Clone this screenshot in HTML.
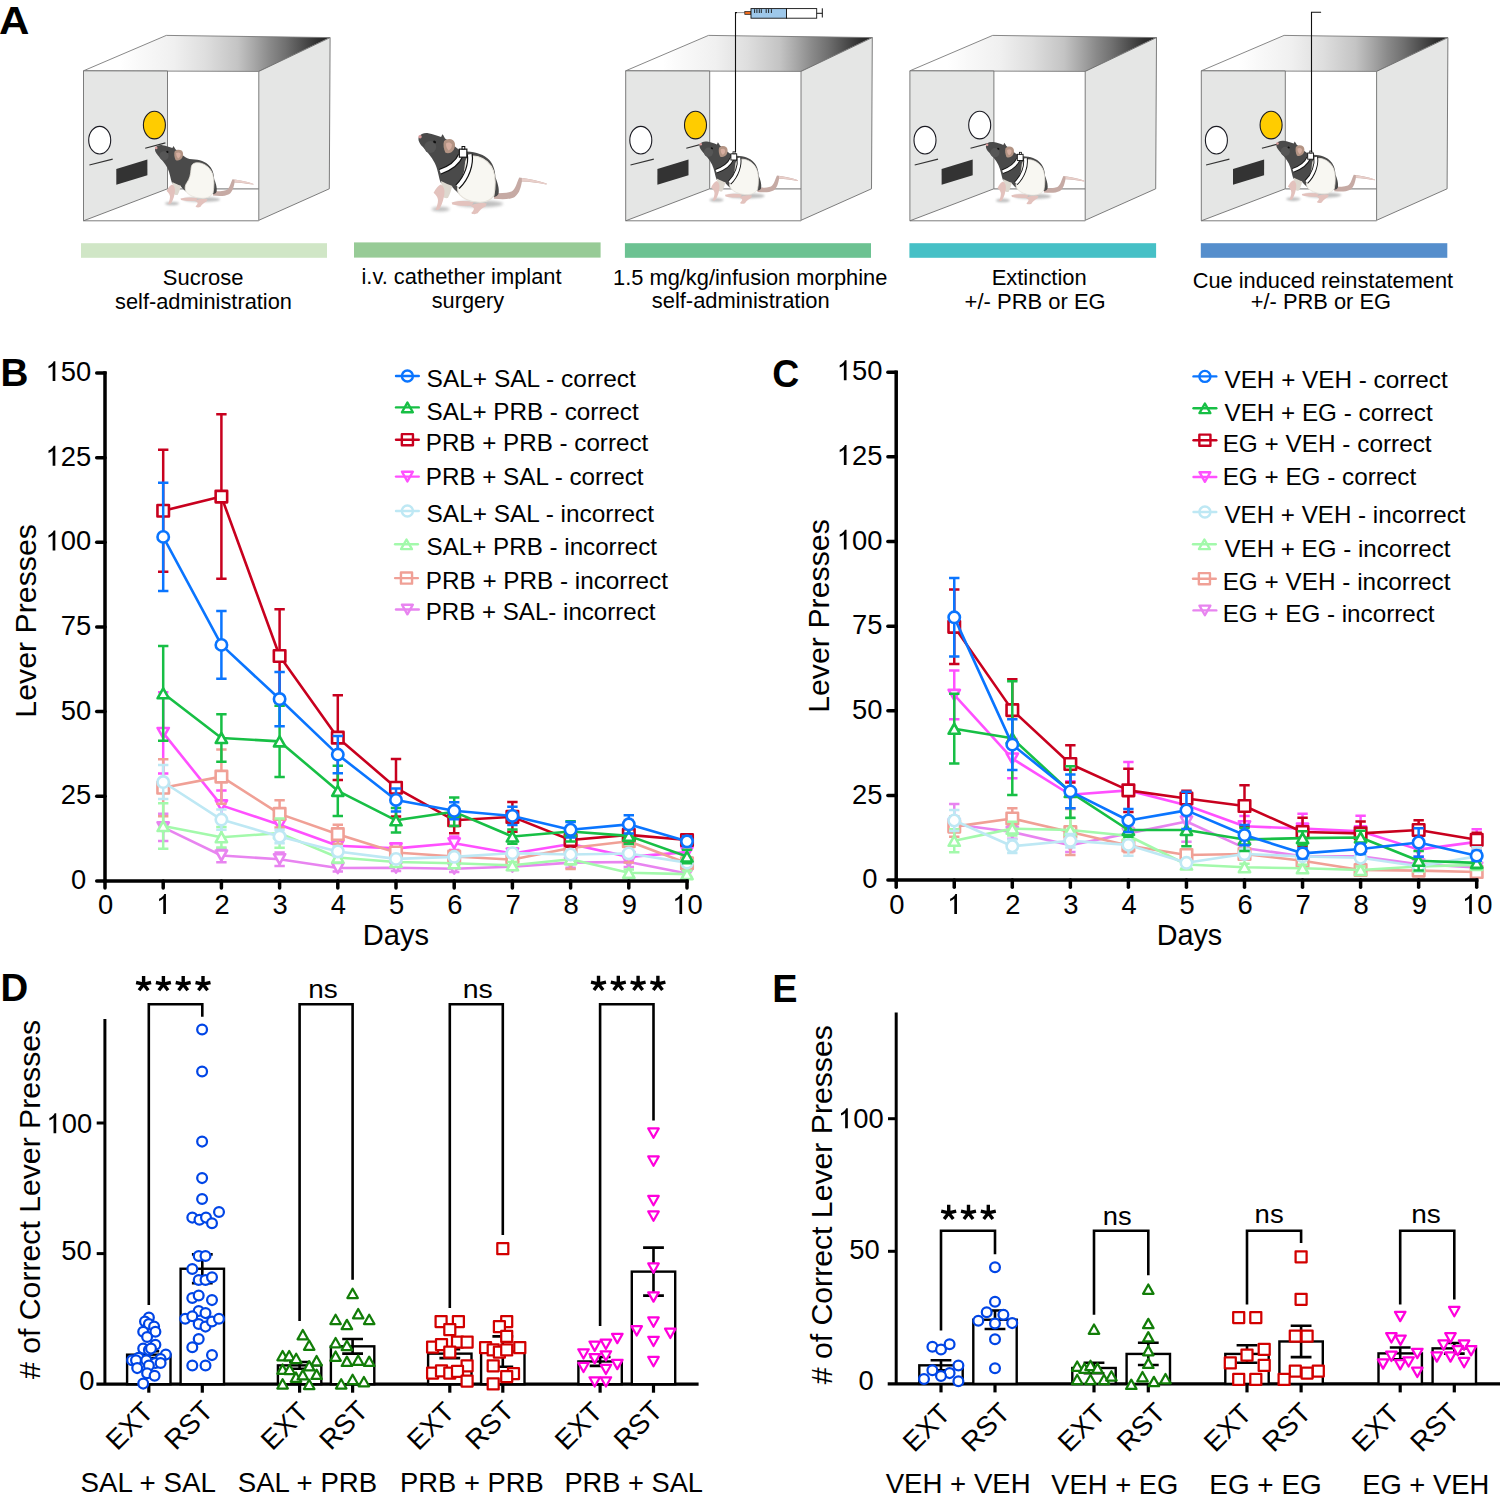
<!DOCTYPE html>
<html><head><meta charset="utf-8"><style>html,body{margin:0;padding:0;background:#fff;}svg{display:block;}</style></head><body>
<svg width="1500" height="1503" viewBox="0 0 1500 1503" font-family='"Liberation Sans", sans-serif'>
<defs><linearGradient id="topgrad" x1="0" y1="0" x2="1" y2="0"><stop offset="0" stop-color="#ffffff"/><stop offset="0.15" stop-color="#ffffff"/><stop offset="0.24" stop-color="#f8f8f8"/><stop offset="0.365" stop-color="#f0f0f0"/><stop offset="0.495" stop-color="#dedede"/><stop offset="0.625" stop-color="#c4c4c4"/><stop offset="0.69" stop-color="#a8a8a8"/><stop offset="0.755" stop-color="#8a8a8a"/><stop offset="0.82" stop-color="#707070"/><stop offset="0.885" stop-color="#505050"/><stop offset="0.95" stop-color="#303030"/><stop offset="1" stop-color="#232323"/></linearGradient><filter id="blur1" x="-50%" y="-200%" width="200%" height="500%"><feGaussianBlur stdDeviation="1.2"/></filter>

<g id="rat">
  <ellipse cx="22" cy="68.5" rx="7" ry="1.8" fill="#8a8a8a" opacity="0.55" filter="url(#blur1)"/>
  <ellipse cx="52" cy="64.5" rx="18" ry="2.6" fill="#8a8a8a" opacity="0.55" filter="url(#blur1)"/>
  <path d="M63 56.5 C68 56 73 56.5 76.5 55 C80 53 80.5 48 82.5 44.2 C89 45 97 46.5 103.6 48.9 L103.4 49.6 C97 48.4 90 47.6 84.6 47.4 C83.8 51 83 56.5 79 59.2 C74.5 61.6 68 61 63 60.6 Z" fill="#c6aaa4"/>
  <path d="M84.5 44.6 C91 45.4 97.5 46.8 103.6 48.9 L103.4 49.6 C97 48.2 90 47.4 84.5 47.2 Z" fill="#e9cfca"/>
  <path d="M30.5 63.4 C36 62 42 62.2 47.5 63.2 L46 65.8 C40.5 66.3 35 66 31 65 Z" fill="#e3c2bd"/>
  <path d="M45 66 C48.5 64 53 63.3 57.5 64.2 L56.5 66.6 C54 67.8 52 69.5 50.5 71.8 C48.5 72.8 46.5 72.5 45.5 71.5 C47 70 48 68.6 47.5 67.6 Z" fill="#e3c2bd"/>
  <path d="M5.2 13.2 C6.5 10.8 9.5 9.7 12.5 10.2 C16 10.8 19.5 12 22.4 13 L23.4 10.9 C24.4 12 24.9 13.2 25.4 14.2 C30.5 17 33.5 22.5 39.5 24 C47 24.2 53.5 25.5 58 29.5 C62.3 33 64 38.5 64.2 44 C65.5 47.5 67.4 52.5 66.6 56.8 C65.6 59 63.6 59.3 62.6 58.8 C56 60 48 59.5 42 59 C37 58.6 33 54 30.5 51 C27.5 50.5 24 50 22 48 C20.5 44 20 38 17.5 33 C15 28 11 24 8 20.4 C5.8 18 4.4 15.4 5.2 13.2 Z" fill="#4a4a4a"/>
  <circle cx="14" cy="20.8" r="4.6" fill="#565656"/>
  <path d="M42.4 29.5 C44 27.6 47.5 27.4 51 28.2 C56.5 29.8 60.6 33.5 62.6 39 C64.4 44.5 64.2 52 63 58.2 C60 62.6 55 63.6 50 63.1 C44.5 62.6 39.5 60.6 36.6 57.4 C34.4 54.3 34.8 50.5 37 47.5 C39.6 44 40.8 39 41 34.5 C41.2 32.4 41.4 30.6 42.4 29.5 Z" fill="#f8f7f2" stroke="#e6e2da" stroke-width="0.8"/>
  <path d="M22.2 47 C25.6 48.5 28.8 50.2 31 50.8 C30.2 54 29 57.8 27.6 60 C25.8 60.4 24.2 59.6 23.4 58.6 C23.6 54.6 23 50.6 22.2 47 Z" fill="#ddd8cf"/>
  <path d="M16.6 56 C18.4 52.6 20.4 50 22.2 49.6 C24.4 51 25.4 53.6 24.9 57 C24.4 60.6 23.4 64.4 21.6 67.6 C20.8 69.2 19 69.6 18.2 68.9 C19.2 66.6 20 64 20 61.6 C19.8 59.4 18.6 57.8 16.6 56 Z" fill="#e3c2bd"/>
  <path d="M24.6 16.4 C26.4 14.4 29.6 14.2 31.6 15.6 C33.6 17.2 33.4 20.6 32 23 C30.6 25.2 27.6 26.2 25.6 25 C24.4 22.6 23.8 19 24.6 16.4 Z" fill="#b39484"/>
  <path d="M26.2 18 C27.6 17 29.6 17.2 30.6 18.6 C31 20.4 30 22.4 28.2 23.4 C26.8 22 26 20 26.2 18 Z" fill="#d6aea0"/>
  <ellipse cx="17.4" cy="16.9" rx="1.2" ry="0.9" fill="#111" transform="rotate(30 17.4 16.9)"/>
  <circle cx="6.2" cy="12.9" r="1.3" fill="#d99c9c"/>
</g>
<g id="harness">
  <path d="M37.4 27.2 C35 33 29 37.2 21.6 39.8 M44.4 26.4 C45.6 33.5 42.6 44 35 51.4" stroke="#111" stroke-width="4.6" fill="none"/>
  <path d="M37.4 27.2 C35 33 29 37.2 21.6 39.8 M44.4 26.4 C45.6 33.5 42.6 44 35 51.4" stroke="#fff" stroke-width="2.8" fill="none"/>
  <rect x="36.4" y="22.4" width="5.8" height="6.2" fill="#fff" stroke="#111" stroke-width="0.9"/>
  <rect x="38.5" y="20.4" width="2.1" height="2" fill="#fff" stroke="#111" stroke-width="0.8"/>
</g>

</defs>
<rect width="1500" height="1503" fill="#fff"/>
<text x="-1.05" y="33.8" font-size="39.5" text-anchor="start" font-weight="bold" fill="#000" textLength="30.4" lengthAdjust="spacingAndGlyphs">A</text>
<g transform="translate(83.5 0)">
<polygon points="0,70.8 82.8,35.4 246.6,37.6 175.3,71.4" fill="url(#topgrad)" stroke="#7a7a7a" stroke-width="0.9"/>
<path d="M84 188.8 H175.3" stroke="#8c8c8c" stroke-width="1.3"/>
<polygon points="0,70.8 84,71 84,188.8 0,220.8" fill="#e5e6e5" stroke="#6e6e6e" stroke-width="0.9"/>
<polygon points="175.3,71.4 246.6,37.6 245.8,188.8 175.3,220.3" fill="#e5e6e5" stroke="#6e6e6e" stroke-width="0.9"/>
<path d="M0 220.8 H175.3" stroke="#6e6e6e" stroke-width="0.9"/>
<g transform="translate(0 0)">
<ellipse cx="16.2" cy="140.2" rx="11" ry="13.8" fill="#fff" stroke="#1a1a22" stroke-width="1.1"/>
<ellipse cx="70.9" cy="125.1" rx="11" ry="13.8" fill="#ffcc00" stroke="#1a1a22" stroke-width="1.1"/>
<path d="M5.9 165 L29.2 159.1 M61.7 148.3 L81.9 142.9" stroke="#333" stroke-width="1.1"/>
<polygon points="32.8,169 63.9,159.6 63.9,175.3 32.8,184.8" fill="#333"/>
</g>
</g>
<g transform="translate(625.7 0)">
<polygon points="0,70.8 82.8,35.4 246.6,37.6 175.3,71.4" fill="url(#topgrad)" stroke="#7a7a7a" stroke-width="0.9"/>
<path d="M84 188.8 H175.3" stroke="#8c8c8c" stroke-width="1.3"/>
<polygon points="0,70.8 84,71 84,188.8 0,220.8" fill="#e5e6e5" stroke="#6e6e6e" stroke-width="0.9"/>
<polygon points="175.3,71.4 246.6,37.6 245.8,188.8 175.3,220.3" fill="#e5e6e5" stroke="#6e6e6e" stroke-width="0.9"/>
<path d="M0 220.8 H175.3" stroke="#6e6e6e" stroke-width="0.9"/>
<g transform="translate(-1.1 0)">
<ellipse cx="16.2" cy="140.2" rx="11" ry="13.8" fill="#fff" stroke="#1a1a22" stroke-width="1.1"/>
<ellipse cx="70.9" cy="125.1" rx="11" ry="13.8" fill="#ffcc00" stroke="#1a1a22" stroke-width="1.1"/>
<path d="M5.9 165 L29.2 159.1 M61.7 148.3 L81.9 142.9" stroke="#333" stroke-width="1.1"/>
<polygon points="32.8,169 63.9,159.6 63.9,175.3 32.8,184.8" fill="#333"/>
</g>
</g>
<g transform="translate(909.9 0)">
<polygon points="0,70.8 82.8,35.4 246.6,37.6 175.3,71.4" fill="url(#topgrad)" stroke="#7a7a7a" stroke-width="0.9"/>
<path d="M84 188.8 H175.3" stroke="#8c8c8c" stroke-width="1.3"/>
<polygon points="0,70.8 84,71 84,188.8 0,220.8" fill="#e5e6e5" stroke="#6e6e6e" stroke-width="0.9"/>
<polygon points="175.3,71.4 246.6,37.6 245.8,188.8 175.3,220.3" fill="#e5e6e5" stroke="#6e6e6e" stroke-width="0.9"/>
<path d="M0 220.8 H175.3" stroke="#6e6e6e" stroke-width="0.9"/>
<g transform="translate(-1.1 0)">
<ellipse cx="16.2" cy="140.2" rx="11" ry="13.8" fill="#fff" stroke="#1a1a22" stroke-width="1.1"/>
<ellipse cx="70.9" cy="125.1" rx="11" ry="13.8" fill="#fff" stroke="#1a1a22" stroke-width="1.1"/>
<path d="M5.9 165 L29.2 159.1 M61.7 148.3 L81.9 142.9" stroke="#333" stroke-width="1.1"/>
<polygon points="32.8,169 63.9,159.6 63.9,175.3 32.8,184.8" fill="#333"/>
</g>
</g>
<g transform="translate(1201.3 0)">
<polygon points="0,70.8 82.8,35.4 246.6,37.6 175.3,71.4" fill="url(#topgrad)" stroke="#7a7a7a" stroke-width="0.9"/>
<path d="M84 188.8 H175.3" stroke="#8c8c8c" stroke-width="1.3"/>
<polygon points="0,70.8 84,71 84,188.8 0,220.8" fill="#e5e6e5" stroke="#6e6e6e" stroke-width="0.9"/>
<polygon points="175.3,71.4 246.6,37.6 245.8,188.8 175.3,220.3" fill="#e5e6e5" stroke="#6e6e6e" stroke-width="0.9"/>
<path d="M0 220.8 H175.3" stroke="#6e6e6e" stroke-width="0.9"/>
<g transform="translate(-1.1 0)">
<ellipse cx="16.2" cy="140.2" rx="11" ry="13.8" fill="#fff" stroke="#1a1a22" stroke-width="1.1"/>
<ellipse cx="70.9" cy="125.1" rx="11" ry="13.8" fill="#ffcc00" stroke="#1a1a22" stroke-width="1.1"/>
<path d="M5.9 165 L29.2 159.1 M61.7 148.3 L81.9 142.9" stroke="#333" stroke-width="1.1"/>
<polygon points="32.8,169 63.9,159.6 63.9,175.3 32.8,184.8" fill="#333"/>
</g>
</g>
<use href="#rat" transform="translate(150 135)"/>
<use href="#rat" transform="translate(412 120) scale(1.3)"/>
<use href="#harness" transform="translate(412 120) scale(1.3)"/>
<use href="#rat" transform="translate(694.5 131.4)"/>
<use href="#harness" transform="translate(694.5 131.4)"/>
<use href="#rat" transform="translate(980.9 131.9)"/>
<use href="#harness" transform="translate(980.9 131.9)"/>
<use href="#rat" transform="translate(1271.3 130.6)"/>
<use href="#harness" transform="translate(1271.3 130.6)"/>
<path d="M735.5 152 V12.6 H737" stroke="#111" stroke-width="1.1" fill="none"/>
<path d="M737 12.6 H745" stroke="#888" stroke-width="0.9" fill="none"/>
<path d="M1311.5 152 V12.2 H1321.1" stroke="#111" stroke-width="1.1" fill="none"/>
<rect x="744.8" y="11.4" width="6.2" height="3" fill="#ec6a1e" stroke="#222" stroke-width="0.7"/>
<rect x="751" y="8.6" width="35.5" height="9.6" fill="#9ec8ea" stroke="#111" stroke-width="0.9"/>
<rect x="786.5" y="8.6" width="30.2" height="9.6" fill="#fff" stroke="#111" stroke-width="0.9"/>
<path d="M816.7 13.3 H822.3 M822.3 8.3 V17.5" stroke="#111" stroke-width="1"/>
<path d="M754.6 9.2 V13 M756.9 9.2 V13 M759.3 9.2 V13 M761.3 9.2 V13 M766.2 9.2 V13 M768.6 9.2 V13 M771.4 9.2 V13" stroke="#111" stroke-width="0.9"/>
<rect x="81" y="243.2" width="246" height="14.6" fill="#d0e6c6"/>
<rect x="354" y="242.4" width="246.6" height="15.2" fill="#97cb96"/>
<rect x="624.9" y="243.2" width="246.1" height="14.6" fill="#6cc292"/>
<rect x="909.4" y="243.2" width="246.7" height="14.6" fill="#46c0c6"/>
<rect x="1200.8" y="243.2" width="246.5" height="14.6" fill="#558ecc"/>
<text x="162.81" y="284.7" font-size="21.5" text-anchor="start" font-weight="normal" fill="#000" textLength="80.66" lengthAdjust="spacingAndGlyphs">Sucrose</text>
<text x="115.05" y="308.9" font-size="21.5" text-anchor="start" font-weight="normal" fill="#000" textLength="176.86" lengthAdjust="spacingAndGlyphs">self-administration</text>
<text x="361.48" y="284" font-size="21.5" text-anchor="start" font-weight="normal" fill="#000" textLength="200.08" lengthAdjust="spacingAndGlyphs">i.v. cathether implant</text>
<text x="431.75" y="307.8" font-size="21.5" text-anchor="start" font-weight="normal" fill="#000" textLength="72.45" lengthAdjust="spacingAndGlyphs">surgery</text>
<text x="613.06" y="284.7" font-size="21.5" text-anchor="start" font-weight="normal" fill="#000" textLength="274.28" lengthAdjust="spacingAndGlyphs">1.5 mg/kg/infusion morphine</text>
<text x="651.74" y="308.3" font-size="21.5" text-anchor="start" font-weight="normal" fill="#000" textLength="177.97" lengthAdjust="spacingAndGlyphs">self-administration</text>
<text x="991.65" y="284.9" font-size="21.5" text-anchor="start" font-weight="normal" fill="#000" textLength="95.09" lengthAdjust="spacingAndGlyphs">Extinction</text>
<text x="964.6" y="308.9" font-size="21.5" text-anchor="start" font-weight="normal" fill="#000" textLength="141.12" lengthAdjust="spacingAndGlyphs">+/- PRB or EG</text>
<text x="1192.71" y="287.5" font-size="21.5" text-anchor="start" font-weight="normal" fill="#000" textLength="260.44" lengthAdjust="spacingAndGlyphs">Cue induced reinstatement</text>
<text x="1250.81" y="308.6" font-size="21.5" text-anchor="start" font-weight="normal" fill="#000" textLength="140.2" lengthAdjust="spacingAndGlyphs">+/- PRB or EG</text>
<path d="M163.2 813.86V840.95M158 813.86H168.4M158 840.95H168.4" stroke="#e884f0" stroke-width="2.5" fill="none"/>
<path d="M221.4 848.73V862.28M216.2 848.73H226.6M216.2 862.28H226.6" stroke="#e884f0" stroke-width="2.5" fill="none"/>
<path d="M279.6 852.46V866M274.4 852.46H284.8M274.4 866H284.8" stroke="#e884f0" stroke-width="2.5" fill="none"/>
<path d="M337.8 864.65V871.42M332.6 864.65H343M332.6 871.42H343" stroke="#e884f0" stroke-width="2.5" fill="none"/>
<path d="M396 864.31V871.08M390.8 864.31H401.2M390.8 871.08H401.2" stroke="#e884f0" stroke-width="2.5" fill="none"/>
<path d="M454.2 865.32V872.1M449 865.32H459.4M449 872.1H459.4" stroke="#e884f0" stroke-width="2.5" fill="none"/>
<path d="M512.4 863.29V870.06M507.2 863.29H517.6M507.2 870.06H517.6" stroke="#e884f0" stroke-width="2.5" fill="none"/>
<path d="M570.6 857.54V867.69M565.4 857.54H575.8M565.4 867.69H575.8" stroke="#e884f0" stroke-width="2.5" fill="none"/>
<path d="M628.8 856.86V867.02M623.6 856.86H634M623.6 867.02H634" stroke="#e884f0" stroke-width="2.5" fill="none"/>
<path d="M687 870.06V876.84M681.8 870.06H692.2M681.8 876.84H692.2" stroke="#e884f0" stroke-width="2.5" fill="none"/>
<path d="M163.2 827.4 L221.4 855.5 L279.6 859.23 L337.8 868.03 L396 867.69 L454.2 868.71 L512.4 866.68 L570.6 862.62 L628.8 861.94 L687 873.45" stroke="#e884f0" stroke-width="2.6" fill="none" stroke-linejoin="round"/>
<polygon points="163.2,832.4 168.85,822.4 157.55,822.4" fill="#fff" stroke="#e884f0" stroke-width="2.6" stroke-linejoin="round"/>
<polygon points="221.4,860.51 227.05,850.5 215.75,850.5" fill="#fff" stroke="#e884f0" stroke-width="2.6" stroke-linejoin="round"/>
<polygon points="279.6,864.23 285.25,854.23 273.95,854.23" fill="#fff" stroke="#e884f0" stroke-width="2.6" stroke-linejoin="round"/>
<polygon points="337.8,873.03 343.45,863.03 332.15,863.03" fill="#fff" stroke="#e884f0" stroke-width="2.6" stroke-linejoin="round"/>
<polygon points="396,872.69 401.65,862.69 390.35,862.69" fill="#fff" stroke="#e884f0" stroke-width="2.6" stroke-linejoin="round"/>
<polygon points="454.2,873.71 459.85,863.71 448.55,863.71" fill="#fff" stroke="#e884f0" stroke-width="2.6" stroke-linejoin="round"/>
<polygon points="512.4,871.68 518.05,861.68 506.75,861.68" fill="#fff" stroke="#e884f0" stroke-width="2.6" stroke-linejoin="round"/>
<polygon points="570.6,867.62 576.25,857.62 564.95,857.62" fill="#fff" stroke="#e884f0" stroke-width="2.6" stroke-linejoin="round"/>
<polygon points="628.8,866.94 634.45,856.94 623.15,856.94" fill="#fff" stroke="#e884f0" stroke-width="2.6" stroke-linejoin="round"/>
<polygon points="687,878.45 692.65,868.45 681.35,868.45" fill="#fff" stroke="#e884f0" stroke-width="2.6" stroke-linejoin="round"/>
<path d="M163.2 692.3V773.56M158 692.3H168.4M158 773.56H168.4" stroke="#ff50ff" stroke-width="2.5" fill="none"/>
<path d="M221.4 790.49V820.29M216.2 790.49H226.6M216.2 820.29H226.6" stroke="#ff50ff" stroke-width="2.5" fill="none"/>
<path d="M279.6 814.53V834.85M274.4 814.53H284.8M274.4 834.85H284.8" stroke="#ff50ff" stroke-width="2.5" fill="none"/>
<path d="M337.8 838.91V852.46M332.6 838.91H343M332.6 852.46H343" stroke="#ff50ff" stroke-width="2.5" fill="none"/>
<path d="M396 843.32V853.47M390.8 843.32H401.2M390.8 853.47H401.2" stroke="#ff50ff" stroke-width="2.5" fill="none"/>
<path d="M454.2 836.54V850.09M449 836.54H459.4M449 850.09H459.4" stroke="#ff50ff" stroke-width="2.5" fill="none"/>
<path d="M512.4 848.39V858.55M507.2 848.39H517.6M507.2 858.55H517.6" stroke="#ff50ff" stroke-width="2.5" fill="none"/>
<path d="M570.6 838.91V849.07M565.4 838.91H575.8M565.4 849.07H575.8" stroke="#ff50ff" stroke-width="2.5" fill="none"/>
<path d="M628.8 851.78V861.94M623.6 851.78H634M623.6 861.94H634" stroke="#ff50ff" stroke-width="2.5" fill="none"/>
<path d="M687 847.04V857.2M681.8 847.04H692.2M681.8 857.2H692.2" stroke="#ff50ff" stroke-width="2.5" fill="none"/>
<path d="M163.2 732.93 L221.4 805.39 L279.6 824.69 L337.8 845.69 L396 848.39 L454.2 843.32 L512.4 853.47 L570.6 843.99 L628.8 856.86 L687 852.12" stroke="#ff50ff" stroke-width="2.6" fill="none" stroke-linejoin="round"/>
<polygon points="163.2,737.93 168.85,727.93 157.55,727.93" fill="#fff" stroke="#ff50ff" stroke-width="2.6" stroke-linejoin="round"/>
<polygon points="221.4,810.39 227.05,800.39 215.75,800.39" fill="#fff" stroke="#ff50ff" stroke-width="2.6" stroke-linejoin="round"/>
<polygon points="279.6,829.69 285.25,819.69 273.95,819.69" fill="#fff" stroke="#ff50ff" stroke-width="2.6" stroke-linejoin="round"/>
<polygon points="337.8,850.69 343.45,840.69 332.15,840.69" fill="#fff" stroke="#ff50ff" stroke-width="2.6" stroke-linejoin="round"/>
<polygon points="396,853.39 401.65,843.39 390.35,843.39" fill="#fff" stroke="#ff50ff" stroke-width="2.6" stroke-linejoin="round"/>
<polygon points="454.2,848.32 459.85,838.32 448.55,838.32" fill="#fff" stroke="#ff50ff" stroke-width="2.6" stroke-linejoin="round"/>
<polygon points="512.4,858.47 518.05,848.47 506.75,848.47" fill="#fff" stroke="#ff50ff" stroke-width="2.6" stroke-linejoin="round"/>
<polygon points="570.6,848.99 576.25,838.99 564.95,838.99" fill="#fff" stroke="#ff50ff" stroke-width="2.6" stroke-linejoin="round"/>
<polygon points="628.8,861.86 634.45,851.86 623.15,851.86" fill="#fff" stroke="#ff50ff" stroke-width="2.6" stroke-linejoin="round"/>
<polygon points="687,857.12 692.65,847.12 681.35,847.12" fill="#fff" stroke="#ff50ff" stroke-width="2.6" stroke-linejoin="round"/>
<path d="M163.2 759.34V816.23M158 759.34H168.4M158 816.23H168.4" stroke="#f0a096" stroke-width="2.5" fill="none"/>
<path d="M221.4 749.52V803.7M216.2 749.52H226.6M216.2 803.7H226.6" stroke="#f0a096" stroke-width="2.5" fill="none"/>
<path d="M279.6 800.31V827.4M274.4 800.31H284.8M274.4 827.4H284.8" stroke="#f0a096" stroke-width="2.5" fill="none"/>
<path d="M337.8 824.69V843.65M332.6 824.69H343M332.6 843.65H343" stroke="#f0a096" stroke-width="2.5" fill="none"/>
<path d="M396 847.38V857.54M390.8 847.38H401.2M390.8 857.54H401.2" stroke="#f0a096" stroke-width="2.5" fill="none"/>
<path d="M454.2 851.44V861.6M449 851.44H459.4M449 861.6H459.4" stroke="#f0a096" stroke-width="2.5" fill="none"/>
<path d="M512.4 854.49V864.65M507.2 854.49H517.6M507.2 864.65H517.6" stroke="#f0a096" stroke-width="2.5" fill="none"/>
<path d="M570.6 827.06V869.05M565.4 827.06H575.8M565.4 869.05H575.8" stroke="#f0a096" stroke-width="2.5" fill="none"/>
<path d="M628.8 819.95V862.62M623.6 819.95H634M623.6 862.62H634" stroke="#f0a096" stroke-width="2.5" fill="none"/>
<path d="M687 859.91V866.68M681.8 859.91H692.2M681.8 866.68H692.2" stroke="#f0a096" stroke-width="2.5" fill="none"/>
<path d="M163.2 787.78 L221.4 776.61 L279.6 813.86 L337.8 834.17 L396 852.46 L454.2 856.52 L512.4 859.57 L570.6 848.06 L628.8 841.28 L687 863.29" stroke="#f0a096" stroke-width="2.6" fill="none" stroke-linejoin="round"/>
<rect x="157.45" y="782.03" width="11.5" height="11.5" fill="#fff" stroke="#f0a096" stroke-width="2.6" stroke-linejoin="round"/>
<rect x="215.65" y="770.86" width="11.5" height="11.5" fill="#fff" stroke="#f0a096" stroke-width="2.6" stroke-linejoin="round"/>
<rect x="273.85" y="808.11" width="11.5" height="11.5" fill="#fff" stroke="#f0a096" stroke-width="2.6" stroke-linejoin="round"/>
<rect x="332.05" y="828.42" width="11.5" height="11.5" fill="#fff" stroke="#f0a096" stroke-width="2.6" stroke-linejoin="round"/>
<rect x="390.25" y="846.71" width="11.5" height="11.5" fill="#fff" stroke="#f0a096" stroke-width="2.6" stroke-linejoin="round"/>
<rect x="448.45" y="850.77" width="11.5" height="11.5" fill="#fff" stroke="#f0a096" stroke-width="2.6" stroke-linejoin="round"/>
<rect x="506.65" y="853.82" width="11.5" height="11.5" fill="#fff" stroke="#f0a096" stroke-width="2.6" stroke-linejoin="round"/>
<rect x="564.85" y="842.31" width="11.5" height="11.5" fill="#fff" stroke="#f0a096" stroke-width="2.6" stroke-linejoin="round"/>
<rect x="623.05" y="835.53" width="11.5" height="11.5" fill="#fff" stroke="#f0a096" stroke-width="2.6" stroke-linejoin="round"/>
<rect x="681.25" y="857.54" width="11.5" height="11.5" fill="#fff" stroke="#f0a096" stroke-width="2.6" stroke-linejoin="round"/>
<path d="M163.2 449.86V571.76M158 449.86H168.4M158 571.76H168.4" stroke="#c8001e" stroke-width="2.5" fill="none"/>
<path d="M221.4 414.31V578.87M216.2 414.31H226.6M216.2 578.87H226.6" stroke="#c8001e" stroke-width="2.5" fill="none"/>
<path d="M279.6 609.34V702.8M274.4 609.34H284.8M274.4 702.8H284.8" stroke="#c8001e" stroke-width="2.5" fill="none"/>
<path d="M337.8 695.35V780M332.6 695.35H343M332.6 780H343" stroke="#c8001e" stroke-width="2.5" fill="none"/>
<path d="M396 759V816.57M390.8 759H401.2M390.8 816.57H401.2" stroke="#c8001e" stroke-width="2.5" fill="none"/>
<path d="M454.2 807.42V833.16M449 807.42H459.4M449 833.16H459.4" stroke="#c8001e" stroke-width="2.5" fill="none"/>
<path d="M512.4 802.01V831.8M507.2 802.01H517.6M507.2 831.8H517.6" stroke="#c8001e" stroke-width="2.5" fill="none"/>
<path d="M570.6 833.16V846.7M565.4 833.16H575.8M565.4 846.7H575.8" stroke="#c8001e" stroke-width="2.5" fill="none"/>
<path d="M628.8 828.08V841.62M623.6 828.08H634M623.6 841.62H634" stroke="#c8001e" stroke-width="2.5" fill="none"/>
<path d="M687 834.85V845.01M681.8 834.85H692.2M681.8 845.01H692.2" stroke="#c8001e" stroke-width="2.5" fill="none"/>
<path d="M163.2 510.81 L221.4 496.59 L279.6 656.07 L337.8 737.67 L396 787.78 L454.2 820.29 L512.4 816.9 L570.6 839.93 L628.8 834.85 L687 839.93" stroke="#c8001e" stroke-width="2.6" fill="none" stroke-linejoin="round"/>
<rect x="157.45" y="505.06" width="11.5" height="11.5" fill="#fff" stroke="#c8001e" stroke-width="2.6" stroke-linejoin="round"/>
<rect x="215.65" y="490.84" width="11.5" height="11.5" fill="#fff" stroke="#c8001e" stroke-width="2.6" stroke-linejoin="round"/>
<rect x="273.85" y="650.32" width="11.5" height="11.5" fill="#fff" stroke="#c8001e" stroke-width="2.6" stroke-linejoin="round"/>
<rect x="332.05" y="731.92" width="11.5" height="11.5" fill="#fff" stroke="#c8001e" stroke-width="2.6" stroke-linejoin="round"/>
<rect x="390.25" y="782.03" width="11.5" height="11.5" fill="#fff" stroke="#c8001e" stroke-width="2.6" stroke-linejoin="round"/>
<rect x="448.45" y="814.54" width="11.5" height="11.5" fill="#fff" stroke="#c8001e" stroke-width="2.6" stroke-linejoin="round"/>
<rect x="506.65" y="811.15" width="11.5" height="11.5" fill="#fff" stroke="#c8001e" stroke-width="2.6" stroke-linejoin="round"/>
<rect x="564.85" y="834.18" width="11.5" height="11.5" fill="#fff" stroke="#c8001e" stroke-width="2.6" stroke-linejoin="round"/>
<rect x="623.05" y="829.1" width="11.5" height="11.5" fill="#fff" stroke="#c8001e" stroke-width="2.6" stroke-linejoin="round"/>
<rect x="681.25" y="834.18" width="11.5" height="11.5" fill="#fff" stroke="#c8001e" stroke-width="2.6" stroke-linejoin="round"/>
<path d="M163.2 803.36V848.73M158 803.36H168.4M158 848.73H168.4" stroke="#a3f9ab" stroke-width="2.5" fill="none"/>
<path d="M221.4 827.06V847.38M216.2 827.06H226.6M216.2 847.38H226.6" stroke="#a3f9ab" stroke-width="2.5" fill="none"/>
<path d="M279.6 818.6V847.72M274.4 818.6H284.8M274.4 847.72H284.8" stroke="#a3f9ab" stroke-width="2.5" fill="none"/>
<path d="M337.8 852.46V862.62M332.6 852.46H343M332.6 862.62H343" stroke="#a3f9ab" stroke-width="2.5" fill="none"/>
<path d="M396 858.55V865.32M390.8 858.55H401.2M390.8 865.32H401.2" stroke="#a3f9ab" stroke-width="2.5" fill="none"/>
<path d="M454.2 859.91V866.68M449 859.91H459.4M449 866.68H459.4" stroke="#a3f9ab" stroke-width="2.5" fill="none"/>
<path d="M512.4 861.94V868.71M507.2 861.94H517.6M507.2 868.71H517.6" stroke="#a3f9ab" stroke-width="2.5" fill="none"/>
<path d="M570.6 854.15V864.31M565.4 854.15H575.8M565.4 864.31H575.8" stroke="#a3f9ab" stroke-width="2.5" fill="none"/>
<path d="M628.8 869.39V876.16M623.6 869.39H634M623.6 876.16H634" stroke="#a3f9ab" stroke-width="2.5" fill="none"/>
<path d="M687 870.74V877.51M681.8 870.74H692.2M681.8 877.51H692.2" stroke="#a3f9ab" stroke-width="2.5" fill="none"/>
<path d="M163.2 826.05 L221.4 837.22 L279.6 833.16 L337.8 857.54 L396 861.94 L454.2 863.29 L512.4 865.32 L570.6 859.23 L628.8 872.77 L687 874.13" stroke="#a3f9ab" stroke-width="2.6" fill="none" stroke-linejoin="round"/>
<polygon points="163.2,821.05 168.85,831.05 157.55,831.05" fill="#fff" stroke="#a3f9ab" stroke-width="2.6" stroke-linejoin="round"/>
<polygon points="221.4,832.22 227.05,842.22 215.75,842.22" fill="#fff" stroke="#a3f9ab" stroke-width="2.6" stroke-linejoin="round"/>
<polygon points="279.6,828.16 285.25,838.16 273.95,838.16" fill="#fff" stroke="#a3f9ab" stroke-width="2.6" stroke-linejoin="round"/>
<polygon points="337.8,852.54 343.45,862.54 332.15,862.54" fill="#fff" stroke="#a3f9ab" stroke-width="2.6" stroke-linejoin="round"/>
<polygon points="396,856.94 401.65,866.94 390.35,866.94" fill="#fff" stroke="#a3f9ab" stroke-width="2.6" stroke-linejoin="round"/>
<polygon points="454.2,858.29 459.85,868.29 448.55,868.29" fill="#fff" stroke="#a3f9ab" stroke-width="2.6" stroke-linejoin="round"/>
<polygon points="512.4,860.32 518.05,870.32 506.75,870.32" fill="#fff" stroke="#a3f9ab" stroke-width="2.6" stroke-linejoin="round"/>
<polygon points="570.6,854.23 576.25,864.23 564.95,864.23" fill="#fff" stroke="#a3f9ab" stroke-width="2.6" stroke-linejoin="round"/>
<polygon points="628.8,867.77 634.45,877.77 623.15,877.77" fill="#fff" stroke="#a3f9ab" stroke-width="2.6" stroke-linejoin="round"/>
<polygon points="687,869.13 692.65,879.13 681.35,879.13" fill="#fff" stroke="#a3f9ab" stroke-width="2.6" stroke-linejoin="round"/>
<path d="M163.2 765.1V798.96M158 765.1H168.4M158 798.96H168.4" stroke="#bee8f4" stroke-width="2.5" fill="none"/>
<path d="M221.4 809.46V829.77M216.2 809.46H226.6M216.2 829.77H226.6" stroke="#bee8f4" stroke-width="2.5" fill="none"/>
<path d="M279.6 829.77V843.32M274.4 829.77H284.8M274.4 843.32H284.8" stroke="#bee8f4" stroke-width="2.5" fill="none"/>
<path d="M337.8 846.36V856.52M332.6 846.36H343M332.6 856.52H343" stroke="#bee8f4" stroke-width="2.5" fill="none"/>
<path d="M396 855.5V862.28M390.8 855.5H401.2M390.8 862.28H401.2" stroke="#bee8f4" stroke-width="2.5" fill="none"/>
<path d="M454.2 853.47V860.25M449 853.47H459.4M449 860.25H459.4" stroke="#bee8f4" stroke-width="2.5" fill="none"/>
<path d="M512.4 849.75V856.52M507.2 849.75H517.6M507.2 856.52H517.6" stroke="#bee8f4" stroke-width="2.5" fill="none"/>
<path d="M570.6 851.1V857.88M565.4 851.1H575.8M565.4 857.88H575.8" stroke="#bee8f4" stroke-width="2.5" fill="none"/>
<path d="M628.8 850.09V856.86M623.6 850.09H634M623.6 856.86H634" stroke="#bee8f4" stroke-width="2.5" fill="none"/>
<path d="M687 859.23V866M681.8 859.23H692.2M681.8 866H692.2" stroke="#bee8f4" stroke-width="2.5" fill="none"/>
<path d="M163.2 782.03 L221.4 819.61 L279.6 836.54 L337.8 851.44 L396 858.89 L454.2 856.86 L512.4 853.13 L570.6 854.49 L628.8 853.47 L687 862.62" stroke="#bee8f4" stroke-width="2.6" fill="none" stroke-linejoin="round"/>
<circle cx="163.2" cy="782.03" r="5.7" fill="#fff" stroke="#bee8f4" stroke-width="2.6"/>
<circle cx="221.4" cy="819.61" r="5.7" fill="#fff" stroke="#bee8f4" stroke-width="2.6"/>
<circle cx="279.6" cy="836.54" r="5.7" fill="#fff" stroke="#bee8f4" stroke-width="2.6"/>
<circle cx="337.8" cy="851.44" r="5.7" fill="#fff" stroke="#bee8f4" stroke-width="2.6"/>
<circle cx="396" cy="858.89" r="5.7" fill="#fff" stroke="#bee8f4" stroke-width="2.6"/>
<circle cx="454.2" cy="856.86" r="5.7" fill="#fff" stroke="#bee8f4" stroke-width="2.6"/>
<circle cx="512.4" cy="853.13" r="5.7" fill="#fff" stroke="#bee8f4" stroke-width="2.6"/>
<circle cx="570.6" cy="854.49" r="5.7" fill="#fff" stroke="#bee8f4" stroke-width="2.6"/>
<circle cx="628.8" cy="853.47" r="5.7" fill="#fff" stroke="#bee8f4" stroke-width="2.6"/>
<circle cx="687" cy="862.62" r="5.7" fill="#fff" stroke="#bee8f4" stroke-width="2.6"/>
<path d="M163.2 645.91V740.72M158 645.91H168.4M158 740.72H168.4" stroke="#17bf45" stroke-width="2.5" fill="none"/>
<path d="M221.4 714.31V761.71M216.2 714.31H226.6M216.2 761.71H226.6" stroke="#17bf45" stroke-width="2.5" fill="none"/>
<path d="M279.6 705.84V776.95M274.4 705.84H284.8M274.4 776.95H284.8" stroke="#17bf45" stroke-width="2.5" fill="none"/>
<path d="M337.8 765.78V815.89M332.6 765.78H343M332.6 815.89H343" stroke="#17bf45" stroke-width="2.5" fill="none"/>
<path d="M396 808.1V832.48M390.8 808.1H401.2M390.8 832.48H401.2" stroke="#17bf45" stroke-width="2.5" fill="none"/>
<path d="M454.2 797.6V826.05M449 797.6H459.4M449 826.05H459.4" stroke="#17bf45" stroke-width="2.5" fill="none"/>
<path d="M512.4 829.43V843.65M507.2 829.43H517.6M507.2 843.65H517.6" stroke="#17bf45" stroke-width="2.5" fill="none"/>
<path d="M570.6 821.31V841.62M565.4 821.31H575.8M565.4 841.62H575.8" stroke="#17bf45" stroke-width="2.5" fill="none"/>
<path d="M628.8 827.74V843.99M623.6 827.74H634M623.6 843.99H634" stroke="#17bf45" stroke-width="2.5" fill="none"/>
<path d="M687 849.75V863.29M681.8 849.75H692.2M681.8 863.29H692.2" stroke="#17bf45" stroke-width="2.5" fill="none"/>
<path d="M163.2 693.32 L221.4 738.01 L279.6 741.4 L337.8 790.83 L396 820.29 L454.2 811.83 L512.4 836.54 L570.6 831.46 L628.8 835.87 L687 856.52" stroke="#17bf45" stroke-width="2.6" fill="none" stroke-linejoin="round"/>
<polygon points="163.2,688.32 168.85,698.32 157.55,698.32" fill="#fff" stroke="#17bf45" stroke-width="2.6" stroke-linejoin="round"/>
<polygon points="221.4,733.01 227.05,743.01 215.75,743.01" fill="#fff" stroke="#17bf45" stroke-width="2.6" stroke-linejoin="round"/>
<polygon points="279.6,736.4 285.25,746.4 273.95,746.4" fill="#fff" stroke="#17bf45" stroke-width="2.6" stroke-linejoin="round"/>
<polygon points="337.8,785.83 343.45,795.83 332.15,795.83" fill="#fff" stroke="#17bf45" stroke-width="2.6" stroke-linejoin="round"/>
<polygon points="396,815.29 401.65,825.29 390.35,825.29" fill="#fff" stroke="#17bf45" stroke-width="2.6" stroke-linejoin="round"/>
<polygon points="454.2,806.83 459.85,816.83 448.55,816.83" fill="#fff" stroke="#17bf45" stroke-width="2.6" stroke-linejoin="round"/>
<polygon points="512.4,831.54 518.05,841.54 506.75,841.54" fill="#fff" stroke="#17bf45" stroke-width="2.6" stroke-linejoin="round"/>
<polygon points="570.6,826.46 576.25,836.46 564.95,836.46" fill="#fff" stroke="#17bf45" stroke-width="2.6" stroke-linejoin="round"/>
<polygon points="628.8,830.87 634.45,840.87 623.15,840.87" fill="#fff" stroke="#17bf45" stroke-width="2.6" stroke-linejoin="round"/>
<polygon points="687,851.52 692.65,861.52 681.35,861.52" fill="#fff" stroke="#17bf45" stroke-width="2.6" stroke-linejoin="round"/>
<path d="M163.2 482.71V591.06M158 482.71H168.4M158 591.06H168.4" stroke="#0a75ff" stroke-width="2.5" fill="none"/>
<path d="M221.4 611.04V678.76M216.2 611.04H226.6M216.2 678.76H226.6" stroke="#0a75ff" stroke-width="2.5" fill="none"/>
<path d="M279.6 671.98V726.16M274.4 671.98H284.8M274.4 726.16H284.8" stroke="#0a75ff" stroke-width="2.5" fill="none"/>
<path d="M337.8 735.98V773.23M332.6 735.98H343M332.6 773.23H343" stroke="#0a75ff" stroke-width="2.5" fill="none"/>
<path d="M396 788.46V811.49M390.8 788.46H401.2M390.8 811.49H401.2" stroke="#0a75ff" stroke-width="2.5" fill="none"/>
<path d="M454.2 802.34V819.27M449 802.34H459.4M449 819.27H459.4" stroke="#0a75ff" stroke-width="2.5" fill="none"/>
<path d="M512.4 806.75V825.03M507.2 806.75H517.6M507.2 825.03H517.6" stroke="#0a75ff" stroke-width="2.5" fill="none"/>
<path d="M570.6 821.98V837.56M565.4 821.98H575.8M565.4 837.56H575.8" stroke="#0a75ff" stroke-width="2.5" fill="none"/>
<path d="M628.8 815.21V833.5M623.6 815.21H634M623.6 833.5H634" stroke="#0a75ff" stroke-width="2.5" fill="none"/>
<path d="M687 836.2V846.36M681.8 836.2H692.2M681.8 846.36H692.2" stroke="#0a75ff" stroke-width="2.5" fill="none"/>
<path d="M163.2 536.88 L221.4 644.9 L279.6 699.07 L337.8 754.6 L396 799.97 L454.2 810.81 L512.4 815.89 L570.6 829.77 L628.8 824.35 L687 841.28" stroke="#0a75ff" stroke-width="2.6" fill="none" stroke-linejoin="round"/>
<circle cx="163.2" cy="536.88" r="5.7" fill="#fff" stroke="#0a75ff" stroke-width="2.6"/>
<circle cx="221.4" cy="644.9" r="5.7" fill="#fff" stroke="#0a75ff" stroke-width="2.6"/>
<circle cx="279.6" cy="699.07" r="5.7" fill="#fff" stroke="#0a75ff" stroke-width="2.6"/>
<circle cx="337.8" cy="754.6" r="5.7" fill="#fff" stroke="#0a75ff" stroke-width="2.6"/>
<circle cx="396" cy="799.97" r="5.7" fill="#fff" stroke="#0a75ff" stroke-width="2.6"/>
<circle cx="454.2" cy="810.81" r="5.7" fill="#fff" stroke="#0a75ff" stroke-width="2.6"/>
<circle cx="512.4" cy="815.89" r="5.7" fill="#fff" stroke="#0a75ff" stroke-width="2.6"/>
<circle cx="570.6" cy="829.77" r="5.7" fill="#fff" stroke="#0a75ff" stroke-width="2.6"/>
<circle cx="628.8" cy="824.35" r="5.7" fill="#fff" stroke="#0a75ff" stroke-width="2.6"/>
<circle cx="687" cy="841.28" r="5.7" fill="#fff" stroke="#0a75ff" stroke-width="2.6"/>
<path d="M105 373V880.9H687" stroke="#000" stroke-width="3.5" fill="none" stroke-linecap="square"/>
<path d="M96.7 880.9H105" stroke="#000" stroke-width="3.5" stroke-linecap="round"/>
<text transform="translate(71.02 889) scale(0.96 1)" x="0" y="0" font-size="28.5" fill="#000">0</text>
<path d="M96.7 796.25H105" stroke="#000" stroke-width="3.5" stroke-linecap="round"/>
<text transform="translate(60.81 804.35) scale(0.96 1)" x="0" y="0" font-size="28.5" fill="#000">2</text><text transform="translate(76.02 804.35) scale(0.96 1)" x="0" y="0" font-size="28.5" fill="#000">5</text>
<path d="M96.7 711.6H105" stroke="#000" stroke-width="3.5" stroke-linecap="round"/>
<text transform="translate(60.81 719.7) scale(0.96 1)" x="0" y="0" font-size="28.5" fill="#000">5</text><text transform="translate(76.02 719.7) scale(0.96 1)" x="0" y="0" font-size="28.5" fill="#000">0</text>
<path d="M96.7 626.95H105" stroke="#000" stroke-width="3.5" stroke-linecap="round"/>
<text transform="translate(60.81 635.05) scale(0.96 1)" x="0" y="0" font-size="28.5" fill="#000">7</text><text transform="translate(76.02 635.05) scale(0.96 1)" x="0" y="0" font-size="28.5" fill="#000">5</text>
<path d="M96.7 542.3H105" stroke="#000" stroke-width="3.5" stroke-linecap="round"/>
<path transform="translate(45.59 550.4) scale(27.36 28.5)" d="M0.356 0L0.356 -0.70L0.298 -0.70C0.27 -0.632 0.19 -0.566 0.106 -0.532L0.106 -0.448C0.165 -0.47 0.222 -0.505 0.258 -0.538L0.258 0Z" fill="#000"/><text transform="translate(60.81 550.4) scale(0.96 1)" x="0" y="0" font-size="28.5" fill="#000">0</text><text transform="translate(76.02 550.4) scale(0.96 1)" x="0" y="0" font-size="28.5" fill="#000">0</text>
<path d="M96.7 457.65H105" stroke="#000" stroke-width="3.5" stroke-linecap="round"/>
<path transform="translate(45.59 465.75) scale(27.36 28.5)" d="M0.356 0L0.356 -0.70L0.298 -0.70C0.27 -0.632 0.19 -0.566 0.106 -0.532L0.106 -0.448C0.165 -0.47 0.222 -0.505 0.258 -0.538L0.258 0Z" fill="#000"/><text transform="translate(60.81 465.75) scale(0.96 1)" x="0" y="0" font-size="28.5" fill="#000">2</text><text transform="translate(76.02 465.75) scale(0.96 1)" x="0" y="0" font-size="28.5" fill="#000">5</text>
<path d="M96.7 373H105" stroke="#000" stroke-width="3.5" stroke-linecap="round"/>
<path transform="translate(45.59 381.1) scale(27.36 28.5)" d="M0.356 0L0.356 -0.70L0.298 -0.70C0.27 -0.632 0.19 -0.566 0.106 -0.532L0.106 -0.448C0.165 -0.47 0.222 -0.505 0.258 -0.538L0.258 0Z" fill="#000"/><text transform="translate(60.81 381.1) scale(0.96 1)" x="0" y="0" font-size="28.5" fill="#000">5</text><text transform="translate(76.02 381.1) scale(0.96 1)" x="0" y="0" font-size="28.5" fill="#000">0</text>
<path d="M105 880.9V888.1" stroke="#000" stroke-width="3.5" stroke-linecap="round"/>
<text transform="translate(97.99 913.9) scale(0.96 1)" x="0" y="0" font-size="28.5" fill="#000">0</text>
<path d="M163.2 880.9V888.1" stroke="#000" stroke-width="3.5" stroke-linecap="round"/>
<path transform="translate(156.19 913.9) scale(27.36 28.5)" d="M0.356 0L0.356 -0.70L0.298 -0.70C0.27 -0.632 0.19 -0.566 0.106 -0.532L0.106 -0.448C0.165 -0.47 0.222 -0.505 0.258 -0.538L0.258 0Z" fill="#000"/>
<path d="M221.4 880.9V888.1" stroke="#000" stroke-width="3.5" stroke-linecap="round"/>
<text transform="translate(214.39 913.9) scale(0.96 1)" x="0" y="0" font-size="28.5" fill="#000">2</text>
<path d="M279.6 880.9V888.1" stroke="#000" stroke-width="3.5" stroke-linecap="round"/>
<text transform="translate(272.59 913.9) scale(0.96 1)" x="0" y="0" font-size="28.5" fill="#000">3</text>
<path d="M337.8 880.9V888.1" stroke="#000" stroke-width="3.5" stroke-linecap="round"/>
<text transform="translate(330.79 913.9) scale(0.96 1)" x="0" y="0" font-size="28.5" fill="#000">4</text>
<path d="M396 880.9V888.1" stroke="#000" stroke-width="3.5" stroke-linecap="round"/>
<text transform="translate(388.99 913.9) scale(0.96 1)" x="0" y="0" font-size="28.5" fill="#000">5</text>
<path d="M454.2 880.9V888.1" stroke="#000" stroke-width="3.5" stroke-linecap="round"/>
<text transform="translate(447.19 913.9) scale(0.96 1)" x="0" y="0" font-size="28.5" fill="#000">6</text>
<path d="M512.4 880.9V888.1" stroke="#000" stroke-width="3.5" stroke-linecap="round"/>
<text transform="translate(505.39 913.9) scale(0.96 1)" x="0" y="0" font-size="28.5" fill="#000">7</text>
<path d="M570.6 880.9V888.1" stroke="#000" stroke-width="3.5" stroke-linecap="round"/>
<text transform="translate(563.59 913.9) scale(0.96 1)" x="0" y="0" font-size="28.5" fill="#000">8</text>
<path d="M628.8 880.9V888.1" stroke="#000" stroke-width="3.5" stroke-linecap="round"/>
<text transform="translate(621.79 913.9) scale(0.96 1)" x="0" y="0" font-size="28.5" fill="#000">9</text>
<path d="M687 880.9V888.1" stroke="#000" stroke-width="3.5" stroke-linecap="round"/>
<path transform="translate(672.39 913.9) scale(27.36 28.5)" d="M0.356 0L0.356 -0.70L0.298 -0.70C0.27 -0.632 0.19 -0.566 0.106 -0.532L0.106 -0.448C0.165 -0.47 0.222 -0.505 0.258 -0.538L0.258 0Z" fill="#000"/><text transform="translate(687.6 913.9) scale(0.96 1)" x="0" y="0" font-size="28.5" fill="#000">0</text>
<text x="362.77" y="944.7" font-size="30" text-anchor="start" font-weight="normal" fill="#000" textLength="66.3" lengthAdjust="spacingAndGlyphs">Days</text>
<text x="0" y="0" font-size="30.3" text-anchor="middle" font-weight="normal" fill="#000" transform="translate(36.4 620.8) rotate(-90)">Lever Presses</text>
<text x="0.49" y="385.8" font-size="39.5" text-anchor="start" font-weight="bold" fill="#000" textLength="27.94" lengthAdjust="spacingAndGlyphs">B</text>
<path d="M396 376H418.8" stroke="#0a75ff" stroke-width="2.4" stroke-linecap="round"/>
<circle cx="407.4" cy="376" r="5.5" fill="none" stroke="#0a75ff" stroke-width="2.4"/>
<text x="426.6" y="386.7" font-size="24" text-anchor="start" font-weight="normal" fill="#000" textLength="209.25" lengthAdjust="spacingAndGlyphs">SAL+ SAL - correct</text>
<path d="M396 407.4H418.8" stroke="#17bf45" stroke-width="2.4" stroke-linecap="round"/>
<polygon points="407.4,402.58 412.85,412.22 401.95,412.22" fill="none" stroke="#17bf45" stroke-width="2.4" stroke-linejoin="round"/>
<text x="426.61" y="420.3" font-size="24" text-anchor="start" font-weight="normal" fill="#000" textLength="212.09" lengthAdjust="spacingAndGlyphs">SAL+ PRB - correct</text>
<path d="M396 439.7H418.8" stroke="#c8001e" stroke-width="2.4" stroke-linecap="round"/>
<rect x="401.85" y="434.15" width="11.1" height="11.1" fill="none" stroke="#c8001e" stroke-width="2.4" stroke-linejoin="round"/>
<text x="425.76" y="451.3" font-size="24" text-anchor="start" font-weight="normal" fill="#000" textLength="222.51" lengthAdjust="spacingAndGlyphs">PRB + PRB - correct</text>
<path d="M396 476.6H418.8" stroke="#ff50ff" stroke-width="2.4" stroke-linecap="round"/>
<polygon points="407.4,481.42 412.85,471.78 401.95,471.78" fill="none" stroke="#ff50ff" stroke-width="2.4" stroke-linejoin="round"/>
<text x="425.76" y="484.7" font-size="24" text-anchor="start" font-weight="normal" fill="#000" textLength="217.75" lengthAdjust="spacingAndGlyphs">PRB + SAL - correct</text>
<path d="M396 511H418.8" stroke="#bee8f4" stroke-width="2.4" stroke-linecap="round"/>
<circle cx="407.4" cy="511" r="5.5" fill="none" stroke="#bee8f4" stroke-width="2.4"/>
<text x="426.6" y="521.7" font-size="24" text-anchor="start" font-weight="normal" fill="#000" textLength="227.5" lengthAdjust="spacingAndGlyphs">SAL+ SAL - incorrect</text>
<path d="M395.1 544.3H417.9" stroke="#a3f9ab" stroke-width="2.4" stroke-linecap="round"/>
<polygon points="406.5,539.48 411.95,549.12 401.05,549.12" fill="none" stroke="#a3f9ab" stroke-width="2.4" stroke-linejoin="round"/>
<text x="426.61" y="555.3" font-size="24" text-anchor="start" font-weight="normal" fill="#000" textLength="230.35" lengthAdjust="spacingAndGlyphs">SAL+ PRB - incorrect</text>
<path d="M395.1 578.1H417.9" stroke="#f0a096" stroke-width="2.4" stroke-linecap="round"/>
<rect x="400.95" y="572.55" width="11.1" height="11.1" fill="none" stroke="#f0a096" stroke-width="2.4" stroke-linejoin="round"/>
<text x="425.76" y="589.4" font-size="24" text-anchor="start" font-weight="normal" fill="#000" textLength="242.17" lengthAdjust="spacingAndGlyphs">PRB + PRB - incorrect</text>
<path d="M396 609.5H418.8" stroke="#e884f0" stroke-width="2.4" stroke-linecap="round"/>
<polygon points="407.4,614.32 412.85,604.68 401.95,604.68" fill="none" stroke="#e884f0" stroke-width="2.4" stroke-linejoin="round"/>
<text x="425.77" y="619.7" font-size="24" text-anchor="start" font-weight="normal" fill="#000" textLength="229.69" lengthAdjust="spacingAndGlyphs">PRB + SAL- incorrect</text>
<path d="M954.25 803.91V844.55M949.05 803.91H959.45M949.05 844.55H959.45" stroke="#e884f0" stroke-width="2.5" fill="none"/>
<path d="M1012.3 825.25V838.79M1007.1 825.25H1017.5M1007.1 838.79H1017.5" stroke="#e884f0" stroke-width="2.5" fill="none"/>
<path d="M1070.35 838.45V852M1065.15 838.45H1075.55M1065.15 852H1075.55" stroke="#e884f0" stroke-width="2.5" fill="none"/>
<path d="M1128.4 826.6V840.15M1123.2 826.6H1133.6M1123.2 840.15H1133.6" stroke="#e884f0" stroke-width="2.5" fill="none"/>
<path d="M1186.45 801.21V841.84M1181.25 801.21H1191.65M1181.25 841.84H1191.65" stroke="#e884f0" stroke-width="2.5" fill="none"/>
<path d="M1244.5 841.16V854.71M1239.3 841.16H1249.7M1239.3 854.71H1249.7" stroke="#e884f0" stroke-width="2.5" fill="none"/>
<path d="M1302.55 851.32V861.48M1297.35 851.32H1307.75M1297.35 861.48H1307.75" stroke="#e884f0" stroke-width="2.5" fill="none"/>
<path d="M1360.6 851.32V861.48M1355.4 851.32H1365.8M1355.4 861.48H1365.8" stroke="#e884f0" stroke-width="2.5" fill="none"/>
<path d="M1418.65 860.8V867.57M1413.45 860.8H1423.85M1413.45 867.57H1423.85" stroke="#e884f0" stroke-width="2.5" fill="none"/>
<path d="M1476.7 864.19V870.96M1471.5 864.19H1481.9M1471.5 870.96H1481.9" stroke="#e884f0" stroke-width="2.5" fill="none"/>
<path d="M954.25 824.23 L1012.3 832.02 L1070.35 845.22 L1128.4 833.37 L1186.45 821.52 L1244.5 847.93 L1302.55 856.4 L1360.6 856.4 L1418.65 864.19 L1476.7 867.57" stroke="#e884f0" stroke-width="2.6" fill="none" stroke-linejoin="round"/>
<polygon points="954.25,829.23 959.9,819.23 948.6,819.23" fill="#fff" stroke="#e884f0" stroke-width="2.6" stroke-linejoin="round"/>
<polygon points="1012.3,837.02 1017.95,827.02 1006.65,827.02" fill="#fff" stroke="#e884f0" stroke-width="2.6" stroke-linejoin="round"/>
<polygon points="1070.35,850.22 1076,840.22 1064.7,840.22" fill="#fff" stroke="#e884f0" stroke-width="2.6" stroke-linejoin="round"/>
<polygon points="1128.4,838.37 1134.05,828.37 1122.75,828.37" fill="#fff" stroke="#e884f0" stroke-width="2.6" stroke-linejoin="round"/>
<polygon points="1186.45,826.52 1192.1,816.52 1180.8,816.52" fill="#fff" stroke="#e884f0" stroke-width="2.6" stroke-linejoin="round"/>
<polygon points="1244.5,852.93 1250.15,842.93 1238.85,842.93" fill="#fff" stroke="#e884f0" stroke-width="2.6" stroke-linejoin="round"/>
<polygon points="1302.55,861.4 1308.2,851.4 1296.9,851.4" fill="#fff" stroke="#e884f0" stroke-width="2.6" stroke-linejoin="round"/>
<polygon points="1360.6,861.4 1366.25,851.4 1354.95,851.4" fill="#fff" stroke="#e884f0" stroke-width="2.6" stroke-linejoin="round"/>
<polygon points="1418.65,869.19 1424.3,859.19 1413,859.19" fill="#fff" stroke="#e884f0" stroke-width="2.6" stroke-linejoin="round"/>
<polygon points="1476.7,872.57 1482.35,862.57 1471.05,862.57" fill="#fff" stroke="#e884f0" stroke-width="2.6" stroke-linejoin="round"/>
<path d="M954.25 670.51V719.26M949.05 670.51H959.45M949.05 719.26H959.45" stroke="#ff50ff" stroke-width="2.5" fill="none"/>
<path d="M1012.3 738.9V778.18M1007.1 738.9H1017.5M1007.1 778.18H1017.5" stroke="#ff50ff" stroke-width="2.5" fill="none"/>
<path d="M1070.35 781.23V808.32M1065.15 781.23H1075.55M1065.15 808.32H1075.55" stroke="#ff50ff" stroke-width="2.5" fill="none"/>
<path d="M1128.4 761.93V818.81M1123.2 761.93H1133.6M1123.2 818.81H1133.6" stroke="#ff50ff" stroke-width="2.5" fill="none"/>
<path d="M1186.45 795.11V815.43M1181.25 795.11H1191.65M1181.25 815.43H1191.65" stroke="#ff50ff" stroke-width="2.5" fill="none"/>
<path d="M1244.5 816.1V836.42M1239.3 816.1H1249.7M1239.3 836.42H1249.7" stroke="#ff50ff" stroke-width="2.5" fill="none"/>
<path d="M1302.55 813.73V843.53M1297.35 813.73H1307.75M1297.35 843.53H1307.75" stroke="#ff50ff" stroke-width="2.5" fill="none"/>
<path d="M1360.6 815.77V846.92M1355.4 815.77H1365.8M1355.4 846.92H1365.8" stroke="#ff50ff" stroke-width="2.5" fill="none"/>
<path d="M1418.65 842.85V856.4M1413.45 842.85H1423.85M1413.45 856.4H1423.85" stroke="#ff50ff" stroke-width="2.5" fill="none"/>
<path d="M1476.7 829.31V854.37M1471.5 829.31H1481.9M1471.5 854.37H1481.9" stroke="#ff50ff" stroke-width="2.5" fill="none"/>
<path d="M954.25 694.89 L1012.3 758.54 L1070.35 794.77 L1128.4 790.37 L1186.45 805.27 L1244.5 826.26 L1302.55 828.63 L1360.6 831.34 L1418.65 849.63 L1476.7 841.84" stroke="#ff50ff" stroke-width="2.6" fill="none" stroke-linejoin="round"/>
<polygon points="954.25,699.89 959.9,689.89 948.6,689.89" fill="#fff" stroke="#ff50ff" stroke-width="2.6" stroke-linejoin="round"/>
<polygon points="1012.3,763.54 1017.95,753.54 1006.65,753.54" fill="#fff" stroke="#ff50ff" stroke-width="2.6" stroke-linejoin="round"/>
<polygon points="1070.35,799.77 1076,789.77 1064.7,789.77" fill="#fff" stroke="#ff50ff" stroke-width="2.6" stroke-linejoin="round"/>
<polygon points="1128.4,795.37 1134.05,785.37 1122.75,785.37" fill="#fff" stroke="#ff50ff" stroke-width="2.6" stroke-linejoin="round"/>
<polygon points="1186.45,810.27 1192.1,800.27 1180.8,800.27" fill="#fff" stroke="#ff50ff" stroke-width="2.6" stroke-linejoin="round"/>
<polygon points="1244.5,831.26 1250.15,821.26 1238.85,821.26" fill="#fff" stroke="#ff50ff" stroke-width="2.6" stroke-linejoin="round"/>
<polygon points="1302.55,833.63 1308.2,823.63 1296.9,823.63" fill="#fff" stroke="#ff50ff" stroke-width="2.6" stroke-linejoin="round"/>
<polygon points="1360.6,836.34 1366.25,826.34 1354.95,826.34" fill="#fff" stroke="#ff50ff" stroke-width="2.6" stroke-linejoin="round"/>
<polygon points="1418.65,854.63 1424.3,844.63 1413,844.63" fill="#fff" stroke="#ff50ff" stroke-width="2.6" stroke-linejoin="round"/>
<polygon points="1476.7,846.84 1482.35,836.84 1471.05,836.84" fill="#fff" stroke="#ff50ff" stroke-width="2.6" stroke-linejoin="round"/>
<path d="M954.25 816.44V836.76M949.05 816.44H959.45M949.05 836.76H959.45" stroke="#f0a096" stroke-width="2.5" fill="none"/>
<path d="M1012.3 808.32V828.63M1007.1 808.32H1017.5M1007.1 828.63H1017.5" stroke="#f0a096" stroke-width="2.5" fill="none"/>
<path d="M1070.35 808.99V855.04M1065.15 808.99H1075.55M1065.15 855.04H1075.55" stroke="#f0a096" stroke-width="2.5" fill="none"/>
<path d="M1128.4 838.79V852.33M1123.2 838.79H1133.6M1123.2 852.33H1133.6" stroke="#f0a096" stroke-width="2.5" fill="none"/>
<path d="M1186.45 849.96V860.12M1181.25 849.96H1191.65M1181.25 860.12H1191.65" stroke="#f0a096" stroke-width="2.5" fill="none"/>
<path d="M1244.5 848.95V859.11M1239.3 848.95H1249.7M1239.3 859.11H1249.7" stroke="#f0a096" stroke-width="2.5" fill="none"/>
<path d="M1302.55 857.41V864.19M1297.35 857.41H1307.75M1297.35 864.19H1307.75" stroke="#f0a096" stroke-width="2.5" fill="none"/>
<path d="M1360.6 866.56V873.33M1355.4 866.56H1365.8M1355.4 873.33H1365.8" stroke="#f0a096" stroke-width="2.5" fill="none"/>
<path d="M1418.65 867.23V874.01M1413.45 867.23H1423.85M1413.45 874.01H1423.85" stroke="#f0a096" stroke-width="2.5" fill="none"/>
<path d="M1476.7 868.59V875.36M1471.5 868.59H1481.9M1471.5 875.36H1481.9" stroke="#f0a096" stroke-width="2.5" fill="none"/>
<path d="M954.25 826.6 L1012.3 818.47 L1070.35 832.02 L1128.4 845.56 L1186.45 855.04 L1244.5 854.03 L1302.55 860.8 L1360.6 869.94 L1418.65 870.62 L1476.7 871.97" stroke="#f0a096" stroke-width="2.6" fill="none" stroke-linejoin="round"/>
<rect x="948.5" y="820.85" width="11.5" height="11.5" fill="#fff" stroke="#f0a096" stroke-width="2.6" stroke-linejoin="round"/>
<rect x="1006.55" y="812.72" width="11.5" height="11.5" fill="#fff" stroke="#f0a096" stroke-width="2.6" stroke-linejoin="round"/>
<rect x="1064.6" y="826.27" width="11.5" height="11.5" fill="#fff" stroke="#f0a096" stroke-width="2.6" stroke-linejoin="round"/>
<rect x="1122.65" y="839.81" width="11.5" height="11.5" fill="#fff" stroke="#f0a096" stroke-width="2.6" stroke-linejoin="round"/>
<rect x="1180.7" y="849.29" width="11.5" height="11.5" fill="#fff" stroke="#f0a096" stroke-width="2.6" stroke-linejoin="round"/>
<rect x="1238.75" y="848.28" width="11.5" height="11.5" fill="#fff" stroke="#f0a096" stroke-width="2.6" stroke-linejoin="round"/>
<rect x="1296.8" y="855.05" width="11.5" height="11.5" fill="#fff" stroke="#f0a096" stroke-width="2.6" stroke-linejoin="round"/>
<rect x="1354.85" y="864.19" width="11.5" height="11.5" fill="#fff" stroke="#f0a096" stroke-width="2.6" stroke-linejoin="round"/>
<rect x="1412.9" y="864.87" width="11.5" height="11.5" fill="#fff" stroke="#f0a096" stroke-width="2.6" stroke-linejoin="round"/>
<rect x="1470.95" y="866.22" width="11.5" height="11.5" fill="#fff" stroke="#f0a096" stroke-width="2.6" stroke-linejoin="round"/>
<path d="M954.25 589.58V664.07M949.05 589.58H959.45M949.05 664.07H959.45" stroke="#c8001e" stroke-width="2.5" fill="none"/>
<path d="M1012.3 679.31V740.94M1007.1 679.31H1017.5M1007.1 740.94H1017.5" stroke="#c8001e" stroke-width="2.5" fill="none"/>
<path d="M1070.35 745.34V782.58M1065.15 745.34H1075.55M1065.15 782.58H1075.55" stroke="#c8001e" stroke-width="2.5" fill="none"/>
<path d="M1128.4 768.7V812.04M1123.2 768.7H1133.6M1123.2 812.04H1133.6" stroke="#c8001e" stroke-width="2.5" fill="none"/>
<path d="M1186.45 790.71V806.29M1181.25 790.71H1191.65M1181.25 806.29H1191.65" stroke="#c8001e" stroke-width="2.5" fill="none"/>
<path d="M1244.5 785.29V826.6M1239.3 785.29H1249.7M1239.3 826.6H1249.7" stroke="#c8001e" stroke-width="2.5" fill="none"/>
<path d="M1302.55 817.8V846.24M1297.35 817.8H1307.75M1297.35 846.24H1307.75" stroke="#c8001e" stroke-width="2.5" fill="none"/>
<path d="M1360.6 821.52V845.22M1355.4 821.52H1365.8M1355.4 845.22H1365.8" stroke="#c8001e" stroke-width="2.5" fill="none"/>
<path d="M1418.65 820.17V839.81M1413.45 820.17H1423.85M1413.45 839.81H1423.85" stroke="#c8001e" stroke-width="2.5" fill="none"/>
<path d="M1476.7 832.7V846.92M1471.5 832.7H1481.9M1471.5 846.92H1481.9" stroke="#c8001e" stroke-width="2.5" fill="none"/>
<path d="M954.25 626.83 L1012.3 710.12 L1070.35 763.96 L1128.4 790.37 L1186.45 798.5 L1244.5 805.95 L1302.55 832.02 L1360.6 833.37 L1418.65 829.99 L1476.7 839.81" stroke="#c8001e" stroke-width="2.6" fill="none" stroke-linejoin="round"/>
<rect x="948.5" y="621.08" width="11.5" height="11.5" fill="#fff" stroke="#c8001e" stroke-width="2.6" stroke-linejoin="round"/>
<rect x="1006.55" y="704.37" width="11.5" height="11.5" fill="#fff" stroke="#c8001e" stroke-width="2.6" stroke-linejoin="round"/>
<rect x="1064.6" y="758.21" width="11.5" height="11.5" fill="#fff" stroke="#c8001e" stroke-width="2.6" stroke-linejoin="round"/>
<rect x="1122.65" y="784.62" width="11.5" height="11.5" fill="#fff" stroke="#c8001e" stroke-width="2.6" stroke-linejoin="round"/>
<rect x="1180.7" y="792.75" width="11.5" height="11.5" fill="#fff" stroke="#c8001e" stroke-width="2.6" stroke-linejoin="round"/>
<rect x="1238.75" y="800.2" width="11.5" height="11.5" fill="#fff" stroke="#c8001e" stroke-width="2.6" stroke-linejoin="round"/>
<rect x="1296.8" y="826.27" width="11.5" height="11.5" fill="#fff" stroke="#c8001e" stroke-width="2.6" stroke-linejoin="round"/>
<rect x="1354.85" y="827.62" width="11.5" height="11.5" fill="#fff" stroke="#c8001e" stroke-width="2.6" stroke-linejoin="round"/>
<rect x="1412.9" y="824.24" width="11.5" height="11.5" fill="#fff" stroke="#c8001e" stroke-width="2.6" stroke-linejoin="round"/>
<rect x="1470.95" y="834.06" width="11.5" height="11.5" fill="#fff" stroke="#c8001e" stroke-width="2.6" stroke-linejoin="round"/>
<path d="M954.25 829.31V852.33M949.05 829.31H959.45M949.05 852.33H959.45" stroke="#a3f9ab" stroke-width="2.5" fill="none"/>
<path d="M1012.3 821.86V835.4M1007.1 821.86H1017.5M1007.1 835.4H1017.5" stroke="#a3f9ab" stroke-width="2.5" fill="none"/>
<path d="M1070.35 818.14V841.84M1065.15 818.14H1075.55M1065.15 841.84H1075.55" stroke="#a3f9ab" stroke-width="2.5" fill="none"/>
<path d="M1128.4 828.97V842.52M1123.2 828.97H1133.6M1123.2 842.52H1133.6" stroke="#a3f9ab" stroke-width="2.5" fill="none"/>
<path d="M1186.45 861.14V867.91M1181.25 861.14H1191.65M1181.25 867.91H1191.65" stroke="#a3f9ab" stroke-width="2.5" fill="none"/>
<path d="M1244.5 863.85V870.62M1239.3 863.85H1249.7M1239.3 870.62H1249.7" stroke="#a3f9ab" stroke-width="2.5" fill="none"/>
<path d="M1302.55 864.86V871.63M1297.35 864.86H1307.75M1297.35 871.63H1307.75" stroke="#a3f9ab" stroke-width="2.5" fill="none"/>
<path d="M1360.6 866.56V873.33M1355.4 866.56H1365.8M1355.4 873.33H1365.8" stroke="#a3f9ab" stroke-width="2.5" fill="none"/>
<path d="M1418.65 863.17V869.94M1413.45 863.17H1423.85M1413.45 869.94H1423.85" stroke="#a3f9ab" stroke-width="2.5" fill="none"/>
<path d="M1476.7 861.48V868.25M1471.5 861.48H1481.9M1471.5 868.25H1481.9" stroke="#a3f9ab" stroke-width="2.5" fill="none"/>
<path d="M954.25 840.82 L1012.3 828.63 L1070.35 829.99 L1128.4 835.74 L1186.45 864.52 L1244.5 867.23 L1302.55 868.25 L1360.6 869.94 L1418.65 866.56 L1476.7 864.86" stroke="#a3f9ab" stroke-width="2.6" fill="none" stroke-linejoin="round"/>
<polygon points="954.25,835.82 959.9,845.82 948.6,845.82" fill="#fff" stroke="#a3f9ab" stroke-width="2.6" stroke-linejoin="round"/>
<polygon points="1012.3,823.63 1017.95,833.63 1006.65,833.63" fill="#fff" stroke="#a3f9ab" stroke-width="2.6" stroke-linejoin="round"/>
<polygon points="1070.35,824.99 1076,834.99 1064.7,834.99" fill="#fff" stroke="#a3f9ab" stroke-width="2.6" stroke-linejoin="round"/>
<polygon points="1128.4,830.74 1134.05,840.74 1122.75,840.74" fill="#fff" stroke="#a3f9ab" stroke-width="2.6" stroke-linejoin="round"/>
<polygon points="1186.45,859.52 1192.1,869.52 1180.8,869.52" fill="#fff" stroke="#a3f9ab" stroke-width="2.6" stroke-linejoin="round"/>
<polygon points="1244.5,862.23 1250.15,872.23 1238.85,872.23" fill="#fff" stroke="#a3f9ab" stroke-width="2.6" stroke-linejoin="round"/>
<polygon points="1302.55,863.25 1308.2,873.25 1296.9,873.25" fill="#fff" stroke="#a3f9ab" stroke-width="2.6" stroke-linejoin="round"/>
<polygon points="1360.6,864.94 1366.25,874.94 1354.95,874.94" fill="#fff" stroke="#a3f9ab" stroke-width="2.6" stroke-linejoin="round"/>
<polygon points="1418.65,861.56 1424.3,871.56 1413,871.56" fill="#fff" stroke="#a3f9ab" stroke-width="2.6" stroke-linejoin="round"/>
<polygon points="1476.7,859.86 1482.35,869.86 1471.05,869.86" fill="#fff" stroke="#a3f9ab" stroke-width="2.6" stroke-linejoin="round"/>
<path d="M954.25 810.01V831M949.05 810.01H959.45M949.05 831H959.45" stroke="#bee8f4" stroke-width="2.5" fill="none"/>
<path d="M1012.3 839.47V853.01M1007.1 839.47H1017.5M1007.1 853.01H1017.5" stroke="#bee8f4" stroke-width="2.5" fill="none"/>
<path d="M1070.35 834.05V847.59M1065.15 834.05H1075.55M1065.15 847.59H1075.55" stroke="#bee8f4" stroke-width="2.5" fill="none"/>
<path d="M1128.4 834.05V855.72M1123.2 834.05H1133.6M1123.2 855.72H1133.6" stroke="#bee8f4" stroke-width="2.5" fill="none"/>
<path d="M1186.45 859.45V866.22M1181.25 859.45H1191.65M1181.25 866.22H1191.65" stroke="#bee8f4" stroke-width="2.5" fill="none"/>
<path d="M1244.5 848.95V859.11M1239.3 848.95H1249.7M1239.3 859.11H1249.7" stroke="#bee8f4" stroke-width="2.5" fill="none"/>
<path d="M1302.55 853.01V859.78M1297.35 853.01H1307.75M1297.35 859.78H1307.75" stroke="#bee8f4" stroke-width="2.5" fill="none"/>
<path d="M1360.6 854.37V861.14M1355.4 854.37H1365.8M1355.4 861.14H1365.8" stroke="#bee8f4" stroke-width="2.5" fill="none"/>
<path d="M1418.65 862.83V869.6M1413.45 862.83H1423.85M1413.45 869.6H1423.85" stroke="#bee8f4" stroke-width="2.5" fill="none"/>
<path d="M1476.7 847.26V865.54M1471.5 847.26H1481.9M1471.5 865.54H1481.9" stroke="#bee8f4" stroke-width="2.5" fill="none"/>
<path d="M954.25 820.51 L1012.3 846.24 L1070.35 840.82 L1128.4 844.89 L1186.45 862.83 L1244.5 854.03 L1302.55 856.4 L1360.6 857.75 L1418.65 866.22 L1476.7 856.4" stroke="#bee8f4" stroke-width="2.6" fill="none" stroke-linejoin="round"/>
<circle cx="954.25" cy="820.51" r="5.7" fill="#fff" stroke="#bee8f4" stroke-width="2.6"/>
<circle cx="1012.3" cy="846.24" r="5.7" fill="#fff" stroke="#bee8f4" stroke-width="2.6"/>
<circle cx="1070.35" cy="840.82" r="5.7" fill="#fff" stroke="#bee8f4" stroke-width="2.6"/>
<circle cx="1128.4" cy="844.89" r="5.7" fill="#fff" stroke="#bee8f4" stroke-width="2.6"/>
<circle cx="1186.45" cy="862.83" r="5.7" fill="#fff" stroke="#bee8f4" stroke-width="2.6"/>
<circle cx="1244.5" cy="854.03" r="5.7" fill="#fff" stroke="#bee8f4" stroke-width="2.6"/>
<circle cx="1302.55" cy="856.4" r="5.7" fill="#fff" stroke="#bee8f4" stroke-width="2.6"/>
<circle cx="1360.6" cy="857.75" r="5.7" fill="#fff" stroke="#bee8f4" stroke-width="2.6"/>
<circle cx="1418.65" cy="866.22" r="5.7" fill="#fff" stroke="#bee8f4" stroke-width="2.6"/>
<circle cx="1476.7" cy="856.4" r="5.7" fill="#fff" stroke="#bee8f4" stroke-width="2.6"/>
<path d="M954.25 693.87V763.62M949.05 693.87H959.45M949.05 763.62H959.45" stroke="#17bf45" stroke-width="2.5" fill="none"/>
<path d="M1012.3 681.34V795.11M1007.1 681.34H1017.5M1007.1 795.11H1017.5" stroke="#17bf45" stroke-width="2.5" fill="none"/>
<path d="M1070.35 766.33V817.8M1065.15 766.33H1075.55M1065.15 817.8H1075.55" stroke="#17bf45" stroke-width="2.5" fill="none"/>
<path d="M1128.4 823.22V836.76M1123.2 823.22H1133.6M1123.2 836.76H1133.6" stroke="#17bf45" stroke-width="2.5" fill="none"/>
<path d="M1186.45 813.73V846.24M1181.25 813.73H1191.65M1181.25 846.24H1191.65" stroke="#17bf45" stroke-width="2.5" fill="none"/>
<path d="M1244.5 827.96V850.98M1239.3 827.96H1249.7M1239.3 850.98H1249.7" stroke="#17bf45" stroke-width="2.5" fill="none"/>
<path d="M1302.55 831.34V844.89M1297.35 831.34H1307.75M1297.35 844.89H1307.75" stroke="#17bf45" stroke-width="2.5" fill="none"/>
<path d="M1360.6 830.66V844.21M1355.4 830.66H1365.8M1355.4 844.21H1365.8" stroke="#17bf45" stroke-width="2.5" fill="none"/>
<path d="M1418.65 850.98V870.62M1413.45 850.98H1423.85M1413.45 870.62H1423.85" stroke="#17bf45" stroke-width="2.5" fill="none"/>
<path d="M1476.7 857.75V867.91M1471.5 857.75H1481.9M1471.5 867.91H1481.9" stroke="#17bf45" stroke-width="2.5" fill="none"/>
<path d="M954.25 728.75 L1012.3 738.23 L1070.35 792.06 L1128.4 829.99 L1186.45 829.99 L1244.5 839.47 L1302.55 838.11 L1360.6 837.44 L1418.65 860.8 L1476.7 862.83" stroke="#17bf45" stroke-width="2.6" fill="none" stroke-linejoin="round"/>
<polygon points="954.25,723.75 959.9,733.75 948.6,733.75" fill="#fff" stroke="#17bf45" stroke-width="2.6" stroke-linejoin="round"/>
<polygon points="1012.3,733.23 1017.95,743.23 1006.65,743.23" fill="#fff" stroke="#17bf45" stroke-width="2.6" stroke-linejoin="round"/>
<polygon points="1070.35,787.06 1076,797.06 1064.7,797.06" fill="#fff" stroke="#17bf45" stroke-width="2.6" stroke-linejoin="round"/>
<polygon points="1128.4,824.99 1134.05,834.99 1122.75,834.99" fill="#fff" stroke="#17bf45" stroke-width="2.6" stroke-linejoin="round"/>
<polygon points="1186.45,824.99 1192.1,834.99 1180.8,834.99" fill="#fff" stroke="#17bf45" stroke-width="2.6" stroke-linejoin="round"/>
<polygon points="1244.5,834.47 1250.15,844.47 1238.85,844.47" fill="#fff" stroke="#17bf45" stroke-width="2.6" stroke-linejoin="round"/>
<polygon points="1302.55,833.11 1308.2,843.11 1296.9,843.11" fill="#fff" stroke="#17bf45" stroke-width="2.6" stroke-linejoin="round"/>
<polygon points="1360.6,832.44 1366.25,842.44 1354.95,842.44" fill="#fff" stroke="#17bf45" stroke-width="2.6" stroke-linejoin="round"/>
<polygon points="1418.65,855.8 1424.3,865.8 1413,865.8" fill="#fff" stroke="#17bf45" stroke-width="2.6" stroke-linejoin="round"/>
<polygon points="1476.7,857.83 1482.35,867.83 1471.05,867.83" fill="#fff" stroke="#17bf45" stroke-width="2.6" stroke-linejoin="round"/>
<path d="M954.25 578.07V656.62M949.05 578.07H959.45M949.05 656.62H959.45" stroke="#0a75ff" stroke-width="2.5" fill="none"/>
<path d="M1012.3 719.26V770.06M1007.1 719.26H1017.5M1007.1 770.06H1017.5" stroke="#0a75ff" stroke-width="2.5" fill="none"/>
<path d="M1070.35 774.46V808.32M1065.15 774.46H1075.55M1065.15 808.32H1075.55" stroke="#0a75ff" stroke-width="2.5" fill="none"/>
<path d="M1128.4 808.99V832.02M1123.2 808.99H1133.6M1123.2 832.02H1133.6" stroke="#0a75ff" stroke-width="2.5" fill="none"/>
<path d="M1186.45 791.73V828.97M1181.25 791.73H1191.65M1181.25 828.97H1191.65" stroke="#0a75ff" stroke-width="2.5" fill="none"/>
<path d="M1244.5 824.91V845.22M1239.3 824.91H1249.7M1239.3 845.22H1249.7" stroke="#0a75ff" stroke-width="2.5" fill="none"/>
<path d="M1302.55 848.27V858.43M1297.35 848.27H1307.75M1297.35 858.43H1307.75" stroke="#0a75ff" stroke-width="2.5" fill="none"/>
<path d="M1360.6 843.87V854.03M1355.4 843.87H1365.8M1355.4 854.03H1365.8" stroke="#0a75ff" stroke-width="2.5" fill="none"/>
<path d="M1418.65 828.29V856.74M1413.45 828.29H1423.85M1413.45 856.74H1423.85" stroke="#0a75ff" stroke-width="2.5" fill="none"/>
<path d="M1476.7 850.64V860.8M1471.5 850.64H1481.9M1471.5 860.8H1481.9" stroke="#0a75ff" stroke-width="2.5" fill="none"/>
<path d="M954.25 617.35 L1012.3 744.66 L1070.35 791.39 L1128.4 820.51 L1186.45 810.35 L1244.5 835.07 L1302.55 853.35 L1360.6 848.95 L1418.65 842.52 L1476.7 855.72" stroke="#0a75ff" stroke-width="2.6" fill="none" stroke-linejoin="round"/>
<circle cx="954.25" cy="617.35" r="5.7" fill="#fff" stroke="#0a75ff" stroke-width="2.6"/>
<circle cx="1012.3" cy="744.66" r="5.7" fill="#fff" stroke="#0a75ff" stroke-width="2.6"/>
<circle cx="1070.35" cy="791.39" r="5.7" fill="#fff" stroke="#0a75ff" stroke-width="2.6"/>
<circle cx="1128.4" cy="820.51" r="5.7" fill="#fff" stroke="#0a75ff" stroke-width="2.6"/>
<circle cx="1186.45" cy="810.35" r="5.7" fill="#fff" stroke="#0a75ff" stroke-width="2.6"/>
<circle cx="1244.5" cy="835.07" r="5.7" fill="#fff" stroke="#0a75ff" stroke-width="2.6"/>
<circle cx="1302.55" cy="853.35" r="5.7" fill="#fff" stroke="#0a75ff" stroke-width="2.6"/>
<circle cx="1360.6" cy="848.95" r="5.7" fill="#fff" stroke="#0a75ff" stroke-width="2.6"/>
<circle cx="1418.65" cy="842.52" r="5.7" fill="#fff" stroke="#0a75ff" stroke-width="2.6"/>
<circle cx="1476.7" cy="855.72" r="5.7" fill="#fff" stroke="#0a75ff" stroke-width="2.6"/>
<path d="M896.2 372.2V880.1H1476.7" stroke="#000" stroke-width="3.5" fill="none" stroke-linecap="square"/>
<path d="M887.9 880.1H896.2" stroke="#000" stroke-width="3.5" stroke-linecap="round"/>
<text transform="translate(862.22 888.2) scale(0.96 1)" x="0" y="0" font-size="28.5" fill="#000">0</text>
<path d="M887.9 795.45H896.2" stroke="#000" stroke-width="3.5" stroke-linecap="round"/>
<text transform="translate(852.01 803.55) scale(0.96 1)" x="0" y="0" font-size="28.5" fill="#000">2</text><text transform="translate(867.22 803.55) scale(0.96 1)" x="0" y="0" font-size="28.5" fill="#000">5</text>
<path d="M887.9 710.8H896.2" stroke="#000" stroke-width="3.5" stroke-linecap="round"/>
<text transform="translate(852.01 718.9) scale(0.96 1)" x="0" y="0" font-size="28.5" fill="#000">5</text><text transform="translate(867.22 718.9) scale(0.96 1)" x="0" y="0" font-size="28.5" fill="#000">0</text>
<path d="M887.9 626.15H896.2" stroke="#000" stroke-width="3.5" stroke-linecap="round"/>
<text transform="translate(852.01 634.25) scale(0.96 1)" x="0" y="0" font-size="28.5" fill="#000">7</text><text transform="translate(867.22 634.25) scale(0.96 1)" x="0" y="0" font-size="28.5" fill="#000">5</text>
<path d="M887.9 541.5H896.2" stroke="#000" stroke-width="3.5" stroke-linecap="round"/>
<path transform="translate(836.79 549.6) scale(27.36 28.5)" d="M0.356 0L0.356 -0.70L0.298 -0.70C0.27 -0.632 0.19 -0.566 0.106 -0.532L0.106 -0.448C0.165 -0.47 0.222 -0.505 0.258 -0.538L0.258 0Z" fill="#000"/><text transform="translate(852.01 549.6) scale(0.96 1)" x="0" y="0" font-size="28.5" fill="#000">0</text><text transform="translate(867.22 549.6) scale(0.96 1)" x="0" y="0" font-size="28.5" fill="#000">0</text>
<path d="M887.9 456.85H896.2" stroke="#000" stroke-width="3.5" stroke-linecap="round"/>
<path transform="translate(836.79 464.95) scale(27.36 28.5)" d="M0.356 0L0.356 -0.70L0.298 -0.70C0.27 -0.632 0.19 -0.566 0.106 -0.532L0.106 -0.448C0.165 -0.47 0.222 -0.505 0.258 -0.538L0.258 0Z" fill="#000"/><text transform="translate(852.01 464.95) scale(0.96 1)" x="0" y="0" font-size="28.5" fill="#000">2</text><text transform="translate(867.22 464.95) scale(0.96 1)" x="0" y="0" font-size="28.5" fill="#000">5</text>
<path d="M887.9 372.2H896.2" stroke="#000" stroke-width="3.5" stroke-linecap="round"/>
<path transform="translate(836.79 380.3) scale(27.36 28.5)" d="M0.356 0L0.356 -0.70L0.298 -0.70C0.27 -0.632 0.19 -0.566 0.106 -0.532L0.106 -0.448C0.165 -0.47 0.222 -0.505 0.258 -0.538L0.258 0Z" fill="#000"/><text transform="translate(852.01 380.3) scale(0.96 1)" x="0" y="0" font-size="28.5" fill="#000">5</text><text transform="translate(867.22 380.3) scale(0.96 1)" x="0" y="0" font-size="28.5" fill="#000">0</text>
<path d="M896.2 880.1V887.3" stroke="#000" stroke-width="3.5" stroke-linecap="round"/>
<text transform="translate(889.19 913.9) scale(0.96 1)" x="0" y="0" font-size="28.5" fill="#000">0</text>
<path d="M954.25 880.1V887.3" stroke="#000" stroke-width="3.5" stroke-linecap="round"/>
<path transform="translate(947.24 913.9) scale(27.36 28.5)" d="M0.356 0L0.356 -0.70L0.298 -0.70C0.27 -0.632 0.19 -0.566 0.106 -0.532L0.106 -0.448C0.165 -0.47 0.222 -0.505 0.258 -0.538L0.258 0Z" fill="#000"/>
<path d="M1012.3 880.1V887.3" stroke="#000" stroke-width="3.5" stroke-linecap="round"/>
<text transform="translate(1005.29 913.9) scale(0.96 1)" x="0" y="0" font-size="28.5" fill="#000">2</text>
<path d="M1070.35 880.1V887.3" stroke="#000" stroke-width="3.5" stroke-linecap="round"/>
<text transform="translate(1063.34 913.9) scale(0.96 1)" x="0" y="0" font-size="28.5" fill="#000">3</text>
<path d="M1128.4 880.1V887.3" stroke="#000" stroke-width="3.5" stroke-linecap="round"/>
<text transform="translate(1121.39 913.9) scale(0.96 1)" x="0" y="0" font-size="28.5" fill="#000">4</text>
<path d="M1186.45 880.1V887.3" stroke="#000" stroke-width="3.5" stroke-linecap="round"/>
<text transform="translate(1179.44 913.9) scale(0.96 1)" x="0" y="0" font-size="28.5" fill="#000">5</text>
<path d="M1244.5 880.1V887.3" stroke="#000" stroke-width="3.5" stroke-linecap="round"/>
<text transform="translate(1237.49 913.9) scale(0.96 1)" x="0" y="0" font-size="28.5" fill="#000">6</text>
<path d="M1302.55 880.1V887.3" stroke="#000" stroke-width="3.5" stroke-linecap="round"/>
<text transform="translate(1295.54 913.9) scale(0.96 1)" x="0" y="0" font-size="28.5" fill="#000">7</text>
<path d="M1360.6 880.1V887.3" stroke="#000" stroke-width="3.5" stroke-linecap="round"/>
<text transform="translate(1353.59 913.9) scale(0.96 1)" x="0" y="0" font-size="28.5" fill="#000">8</text>
<path d="M1418.65 880.1V887.3" stroke="#000" stroke-width="3.5" stroke-linecap="round"/>
<text transform="translate(1411.64 913.9) scale(0.96 1)" x="0" y="0" font-size="28.5" fill="#000">9</text>
<path d="M1476.7 880.1V887.3" stroke="#000" stroke-width="3.5" stroke-linecap="round"/>
<path transform="translate(1462.09 913.9) scale(27.36 28.5)" d="M0.356 0L0.356 -0.70L0.298 -0.70C0.27 -0.632 0.19 -0.566 0.106 -0.532L0.106 -0.448C0.165 -0.47 0.222 -0.505 0.258 -0.538L0.258 0Z" fill="#000"/><text transform="translate(1477.3 913.9) scale(0.96 1)" x="0" y="0" font-size="28.5" fill="#000">0</text>
<text x="1156.7" y="944.7" font-size="30" text-anchor="start" font-weight="normal" fill="#000" textLength="65.56" lengthAdjust="spacingAndGlyphs">Days</text>
<text x="0" y="0" font-size="30.3" text-anchor="middle" font-weight="normal" fill="#000" transform="translate(828.8 616) rotate(-90)">Lever Presses</text>
<text x="772.2" y="387.1" font-size="39.5" text-anchor="start" font-weight="bold" fill="#000" textLength="27.01" lengthAdjust="spacingAndGlyphs">C</text>
<path d="M1193.5 376.4H1216.3" stroke="#0a75ff" stroke-width="2.4" stroke-linecap="round"/>
<circle cx="1204.9" cy="376.4" r="5.5" fill="none" stroke="#0a75ff" stroke-width="2.4"/>
<text x="1224.48" y="388" font-size="24" text-anchor="start" font-weight="normal" fill="#000" textLength="223.29" lengthAdjust="spacingAndGlyphs">VEH + VEH - correct</text>
<path d="M1193.5 408.3H1216.3" stroke="#17bf45" stroke-width="2.4" stroke-linecap="round"/>
<polygon points="1204.9,403.48 1210.35,413.12 1199.45,413.12" fill="none" stroke="#17bf45" stroke-width="2.4" stroke-linejoin="round"/>
<text x="1224.48" y="420.5" font-size="24" text-anchor="start" font-weight="normal" fill="#000" textLength="208.16" lengthAdjust="spacingAndGlyphs">VEH + EG - correct</text>
<path d="M1193.5 440.2H1216.3" stroke="#c8001e" stroke-width="2.4" stroke-linecap="round"/>
<rect x="1199.35" y="434.65" width="11.1" height="11.1" fill="none" stroke="#c8001e" stroke-width="2.4" stroke-linejoin="round"/>
<text x="1222.65" y="452.4" font-size="24" text-anchor="start" font-weight="normal" fill="#000" textLength="208.98" lengthAdjust="spacingAndGlyphs">EG + VEH - correct</text>
<path d="M1193.5 477H1216.3" stroke="#ff50ff" stroke-width="2.4" stroke-linecap="round"/>
<polygon points="1204.9,481.82 1210.35,472.18 1199.45,472.18" fill="none" stroke="#ff50ff" stroke-width="2.4" stroke-linejoin="round"/>
<text x="1222.66" y="484.7" font-size="24" text-anchor="start" font-weight="normal" fill="#000" textLength="193.57" lengthAdjust="spacingAndGlyphs">EG + EG - correct</text>
<path d="M1193.5 512H1216.3" stroke="#bee8f4" stroke-width="2.4" stroke-linecap="round"/>
<circle cx="1204.9" cy="512" r="5.5" fill="none" stroke="#bee8f4" stroke-width="2.4"/>
<text x="1224.48" y="523" font-size="24" text-anchor="start" font-weight="normal" fill="#000" textLength="241.05" lengthAdjust="spacingAndGlyphs">VEH + VEH - incorrect</text>
<path d="M1193 544.3H1215.8" stroke="#a3f9ab" stroke-width="2.4" stroke-linecap="round"/>
<polygon points="1204.4,539.48 1209.85,549.12 1198.95,549.12" fill="none" stroke="#a3f9ab" stroke-width="2.4" stroke-linejoin="round"/>
<text x="1224.48" y="556.5" font-size="24" text-anchor="start" font-weight="normal" fill="#000" textLength="226.04" lengthAdjust="spacingAndGlyphs">VEH + EG - incorrect</text>
<path d="M1193 578.7H1215.8" stroke="#f0a096" stroke-width="2.4" stroke-linecap="round"/>
<rect x="1198.85" y="573.15" width="11.1" height="11.1" fill="none" stroke="#f0a096" stroke-width="2.4" stroke-linejoin="round"/>
<text x="1222.65" y="590.1" font-size="24" text-anchor="start" font-weight="normal" fill="#000" textLength="227.87" lengthAdjust="spacingAndGlyphs">EG + VEH - incorrect</text>
<path d="M1193.5 610.4H1216.3" stroke="#e884f0" stroke-width="2.4" stroke-linecap="round"/>
<polygon points="1204.9,615.22 1210.35,605.58 1199.45,605.58" fill="none" stroke="#e884f0" stroke-width="2.4" stroke-linejoin="round"/>
<text x="1222.66" y="621.6" font-size="24" text-anchor="start" font-weight="normal" fill="#000" textLength="211.92" lengthAdjust="spacingAndGlyphs">EG + EG - incorrect</text>
<path d="M104.9 1018.9V1384.2" stroke="#000" stroke-width="3" fill="none"/>
<path d="M96.4 1384.2H698.6" stroke="#000" stroke-width="3.3" fill="none"/>
<path d="M96.7 1253.6H104.9" stroke="#000" stroke-width="3"/>
<path d="M96.7 1123H104.9" stroke="#000" stroke-width="3"/>
<path transform="translate(46.49 1133.2) scale(27.36 28.5)" d="M0.356 0L0.356 -0.70L0.298 -0.70C0.27 -0.632 0.19 -0.566 0.106 -0.532L0.106 -0.448C0.165 -0.47 0.222 -0.505 0.258 -0.538L0.258 0Z" fill="#000"/><text transform="translate(61.71 1133.2) scale(0.96 1)" x="0" y="0" font-size="28.5" fill="#000">0</text><text transform="translate(76.92 1133.2) scale(0.96 1)" x="0" y="0" font-size="28.5" fill="#000">0</text>
<text transform="translate(61.21 1260.3) scale(0.96 1)" x="0" y="0" font-size="28.5" fill="#000">5</text><text transform="translate(76.42 1260.3) scale(0.96 1)" x="0" y="0" font-size="28.5" fill="#000">0</text>
<text transform="translate(79.32 1389.8) scale(0.96 1)" x="0" y="0" font-size="28.5" fill="#000">0</text>
<text x="0" y="0" font-size="30.2" text-anchor="middle" font-weight="normal" fill="#000" transform="translate(40 1199.4) rotate(-90)"># of Correct Lever Presses</text>
<text x="0.51" y="1000.8" font-size="39.5" text-anchor="start" font-weight="bold" fill="#000" textLength="27.71" lengthAdjust="spacingAndGlyphs">D</text>
<path d="M148.8 1384.2V1392.7" stroke="#000" stroke-width="3.2"/>
<path d="M202.3 1384.2V1392.7" stroke="#000" stroke-width="3.2"/>
<path d="M299.6 1384.2V1392.7" stroke="#000" stroke-width="3.2"/>
<path d="M352.6 1384.2V1392.7" stroke="#000" stroke-width="3.2"/>
<path d="M449.8 1384.2V1392.7" stroke="#000" stroke-width="3.2"/>
<path d="M502.8 1384.2V1392.7" stroke="#000" stroke-width="3.2"/>
<path d="M600.1 1384.2V1392.7" stroke="#000" stroke-width="3.2"/>
<path d="M653.5 1384.2V1392.7" stroke="#000" stroke-width="3.2"/>
<rect x="127.1" y="1354.68" width="43.4" height="29.52" fill="#fff" stroke="#000" stroke-width="2.4"/>
<rect x="180.6" y="1268.75" width="43.4" height="115.45" fill="#fff" stroke="#000" stroke-width="2.4"/>
<path d="M148.8 1351.29V1358.08M138.4 1351.29H159.2M138.4 1358.08H159.2" stroke="#000" stroke-width="2.6" fill="none"/>
<path d="M202.3 1254.38V1283.12M191.9 1254.38H212.7M191.9 1283.12H212.7" stroke="#000" stroke-width="2.6" fill="none"/>
<circle cx="148.9" cy="1317.5" r="4.9" fill="#fff" stroke="#0045e6" stroke-width="2.25"/>
<circle cx="145" cy="1321.4" r="4.9" fill="#fff" stroke="#0045e6" stroke-width="2.25"/>
<circle cx="148.9" cy="1324" r="4.9" fill="#fff" stroke="#0045e6" stroke-width="2.25"/>
<circle cx="154.1" cy="1326.6" r="4.9" fill="#fff" stroke="#0045e6" stroke-width="2.25"/>
<circle cx="143.2" cy="1331.7" r="4.9" fill="#fff" stroke="#0045e6" stroke-width="2.25"/>
<circle cx="155.4" cy="1331.7" r="4.9" fill="#fff" stroke="#0045e6" stroke-width="2.25"/>
<circle cx="147.1" cy="1336.9" r="4.9" fill="#fff" stroke="#0045e6" stroke-width="2.25"/>
<circle cx="155.4" cy="1344.7" r="4.9" fill="#fff" stroke="#0045e6" stroke-width="2.25"/>
<circle cx="143.2" cy="1348.6" r="4.9" fill="#fff" stroke="#0045e6" stroke-width="2.25"/>
<circle cx="148.9" cy="1349.9" r="4.9" fill="#fff" stroke="#0045e6" stroke-width="2.25"/>
<circle cx="151" cy="1348.6" r="4.9" fill="#fff" stroke="#0045e6" stroke-width="2.25"/>
<circle cx="165.8" cy="1354.6" r="4.9" fill="#fff" stroke="#0045e6" stroke-width="2.25"/>
<circle cx="132.1" cy="1360.3" r="4.9" fill="#fff" stroke="#0045e6" stroke-width="2.25"/>
<circle cx="138.5" cy="1357.7" r="4.9" fill="#fff" stroke="#0045e6" stroke-width="2.25"/>
<circle cx="160.6" cy="1359" r="4.9" fill="#fff" stroke="#0045e6" stroke-width="2.25"/>
<circle cx="136" cy="1360.3" r="4.9" fill="#fff" stroke="#0045e6" stroke-width="2.25"/>
<circle cx="146.3" cy="1360.3" r="4.9" fill="#fff" stroke="#0045e6" stroke-width="2.25"/>
<circle cx="155.4" cy="1362.9" r="4.9" fill="#fff" stroke="#0045e6" stroke-width="2.25"/>
<circle cx="160.6" cy="1362.9" r="4.9" fill="#fff" stroke="#0045e6" stroke-width="2.25"/>
<circle cx="137.2" cy="1368.1" r="4.9" fill="#fff" stroke="#0045e6" stroke-width="2.25"/>
<circle cx="148.9" cy="1365.5" r="4.9" fill="#fff" stroke="#0045e6" stroke-width="2.25"/>
<circle cx="147.1" cy="1373.3" r="4.9" fill="#fff" stroke="#0045e6" stroke-width="2.25"/>
<circle cx="154.6" cy="1375.8" r="4.9" fill="#fff" stroke="#0045e6" stroke-width="2.25"/>
<circle cx="143.2" cy="1383.6" r="4.9" fill="#fff" stroke="#0045e6" stroke-width="2.25"/>
<circle cx="202.1" cy="1029.5" r="4.9" fill="#fff" stroke="#0045e6" stroke-width="2.25"/>
<circle cx="202.1" cy="1071.5" r="4.9" fill="#fff" stroke="#0045e6" stroke-width="2.25"/>
<circle cx="202.1" cy="1141.6" r="4.9" fill="#fff" stroke="#0045e6" stroke-width="2.25"/>
<circle cx="202.1" cy="1178.1" r="4.9" fill="#fff" stroke="#0045e6" stroke-width="2.25"/>
<circle cx="202.1" cy="1198.9" r="4.9" fill="#fff" stroke="#0045e6" stroke-width="2.25"/>
<circle cx="219" cy="1211.9" r="4.9" fill="#fff" stroke="#0045e6" stroke-width="2.25"/>
<circle cx="192.3" cy="1217.6" r="4.9" fill="#fff" stroke="#0045e6" stroke-width="2.25"/>
<circle cx="199.5" cy="1219.7" r="4.9" fill="#fff" stroke="#0045e6" stroke-width="2.25"/>
<circle cx="206" cy="1217.6" r="4.9" fill="#fff" stroke="#0045e6" stroke-width="2.25"/>
<circle cx="212" cy="1223.3" r="4.9" fill="#fff" stroke="#0045e6" stroke-width="2.25"/>
<circle cx="198.7" cy="1256" r="4.9" fill="#fff" stroke="#0045e6" stroke-width="2.25"/>
<circle cx="205.5" cy="1256" r="4.9" fill="#fff" stroke="#0045e6" stroke-width="2.25"/>
<circle cx="192.3" cy="1269" r="4.9" fill="#fff" stroke="#0045e6" stroke-width="2.25"/>
<circle cx="198.7" cy="1279.9" r="4.9" fill="#fff" stroke="#0045e6" stroke-width="2.25"/>
<circle cx="205.5" cy="1279.9" r="4.9" fill="#fff" stroke="#0045e6" stroke-width="2.25"/>
<circle cx="212" cy="1277.3" r="4.9" fill="#fff" stroke="#0045e6" stroke-width="2.25"/>
<circle cx="192.3" cy="1298" r="4.9" fill="#fff" stroke="#0045e6" stroke-width="2.25"/>
<circle cx="198.7" cy="1295.4" r="4.9" fill="#fff" stroke="#0045e6" stroke-width="2.25"/>
<circle cx="212" cy="1300.1" r="4.9" fill="#fff" stroke="#0045e6" stroke-width="2.25"/>
<circle cx="198.7" cy="1311" r="4.9" fill="#fff" stroke="#0045e6" stroke-width="2.25"/>
<circle cx="205.5" cy="1313.1" r="4.9" fill="#fff" stroke="#0045e6" stroke-width="2.25"/>
<circle cx="185.2" cy="1318.8" r="4.9" fill="#fff" stroke="#0045e6" stroke-width="2.25"/>
<circle cx="192.3" cy="1316.2" r="4.9" fill="#fff" stroke="#0045e6" stroke-width="2.25"/>
<circle cx="198.7" cy="1324" r="4.9" fill="#fff" stroke="#0045e6" stroke-width="2.25"/>
<circle cx="205.5" cy="1326.6" r="4.9" fill="#fff" stroke="#0045e6" stroke-width="2.25"/>
<circle cx="212" cy="1321.4" r="4.9" fill="#fff" stroke="#0045e6" stroke-width="2.25"/>
<circle cx="219" cy="1318.8" r="4.9" fill="#fff" stroke="#0045e6" stroke-width="2.25"/>
<circle cx="198.7" cy="1339" r="4.9" fill="#fff" stroke="#0045e6" stroke-width="2.25"/>
<circle cx="192.3" cy="1347.3" r="4.9" fill="#fff" stroke="#0045e6" stroke-width="2.25"/>
<circle cx="212" cy="1355.1" r="4.9" fill="#fff" stroke="#0045e6" stroke-width="2.25"/>
<circle cx="192.3" cy="1365.5" r="4.9" fill="#fff" stroke="#0045e6" stroke-width="2.25"/>
<circle cx="205.5" cy="1365.5" r="4.9" fill="#fff" stroke="#0045e6" stroke-width="2.25"/>
<path d="M148.8 1305V1004.2H202.3V1016.7" stroke="#000" stroke-width="2.6" fill="none"/>
<path d="M143.6 984.2L143.6 976.1M143.6 984.2L151.1 982.47M143.6 984.2L148.17 990.27M143.6 984.2L139.03 990.27M143.6 984.2L136.1 982.47" stroke="#000" stroke-width="3.4" fill="none"/>
<path d="M163.4 984.2L163.4 976.1M163.4 984.2L170.9 982.47M163.4 984.2L167.97 990.27M163.4 984.2L158.83 990.27M163.4 984.2L155.9 982.47" stroke="#000" stroke-width="3.4" fill="none"/>
<path d="M183.2 984.2L183.2 976.1M183.2 984.2L190.7 982.47M183.2 984.2L187.77 990.27M183.2 984.2L178.63 990.27M183.2 984.2L175.7 982.47" stroke="#000" stroke-width="3.4" fill="none"/>
<path d="M203 984.2L203 976.1M203 984.2L210.5 982.47M203 984.2L207.57 990.27M203 984.2L198.43 990.27M203 984.2L195.5 982.47" stroke="#000" stroke-width="3.4" fill="none"/>
<text x="0" y="0" font-size="27.5" text-anchor="end" font-weight="normal" fill="#000" transform="translate(155 1413.6) rotate(-45)">EXT</text>
<text x="0" y="0" font-size="27.5" text-anchor="end" font-weight="normal" fill="#000" transform="translate(214.7 1412.4) rotate(-45)">RST</text>
<text x="80.45" y="1491.6" font-size="27.5" text-anchor="start" font-weight="normal" fill="#000" textLength="135.46" lengthAdjust="spacingAndGlyphs">SAL + SAL</text>
<rect x="277.9" y="1365.39" width="43.4" height="18.81" fill="#fff" stroke="#000" stroke-width="2.4"/>
<rect x="330.9" y="1346.33" width="43.4" height="37.87" fill="#fff" stroke="#000" stroke-width="2.4"/>
<path d="M299.6 1362V1368.79M289.2 1362H310M289.2 1368.79H310" stroke="#000" stroke-width="2.6" fill="none"/>
<path d="M352.6 1339.01V1353.64M342.2 1339.01H363M342.2 1353.64H363" stroke="#000" stroke-width="2.6" fill="none"/>
<polygon points="302.8,1330.05 308.05,1339.35 297.55,1339.35" fill="#fff" stroke="#127d08" stroke-width="2.25" stroke-linejoin="round"/>
<polygon points="309.2,1340.55 314.45,1349.85 303.95,1349.85" fill="#fff" stroke="#127d08" stroke-width="2.25" stroke-linejoin="round"/>
<polygon points="282.6,1350.95 287.85,1360.25 277.35,1360.25" fill="#fff" stroke="#127d08" stroke-width="2.25" stroke-linejoin="round"/>
<polygon points="289.2,1350.95 294.45,1360.25 283.95,1360.25" fill="#fff" stroke="#127d08" stroke-width="2.25" stroke-linejoin="round"/>
<polygon points="296.2,1353.75 301.45,1363.05 290.95,1363.05" fill="#fff" stroke="#127d08" stroke-width="2.25" stroke-linejoin="round"/>
<polygon points="316.6,1356.05 321.85,1365.35 311.35,1365.35" fill="#fff" stroke="#127d08" stroke-width="2.25" stroke-linejoin="round"/>
<polygon points="282.6,1364.55 287.85,1373.85 277.35,1373.85" fill="#fff" stroke="#127d08" stroke-width="2.25" stroke-linejoin="round"/>
<polygon points="289.6,1364.75 294.85,1374.05 284.35,1374.05" fill="#fff" stroke="#127d08" stroke-width="2.25" stroke-linejoin="round"/>
<polygon points="309.2,1361.15 314.45,1370.45 303.95,1370.45" fill="#fff" stroke="#127d08" stroke-width="2.25" stroke-linejoin="round"/>
<polygon points="296,1372.45 301.25,1381.75 290.75,1381.75" fill="#fff" stroke="#127d08" stroke-width="2.25" stroke-linejoin="round"/>
<polygon points="302.8,1370.15 308.05,1379.45 297.55,1379.45" fill="#fff" stroke="#127d08" stroke-width="2.25" stroke-linejoin="round"/>
<polygon points="316.6,1369.65 321.85,1378.95 311.35,1378.95" fill="#fff" stroke="#127d08" stroke-width="2.25" stroke-linejoin="round"/>
<polygon points="282.6,1379.25 287.85,1388.55 277.35,1388.55" fill="#fff" stroke="#127d08" stroke-width="2.25" stroke-linejoin="round"/>
<polygon points="309.2,1379.75 314.45,1389.05 303.95,1389.05" fill="#fff" stroke="#127d08" stroke-width="2.25" stroke-linejoin="round"/>
<polygon points="352.6,1288.75 357.85,1298.05 347.35,1298.05" fill="#fff" stroke="#127d08" stroke-width="2.25" stroke-linejoin="round"/>
<polygon points="358.2,1309.05 363.45,1318.35 352.95,1318.35" fill="#fff" stroke="#127d08" stroke-width="2.25" stroke-linejoin="round"/>
<polygon points="335.6,1314.75 340.85,1324.05 330.35,1324.05" fill="#fff" stroke="#127d08" stroke-width="2.25" stroke-linejoin="round"/>
<polygon points="369.2,1314.75 374.45,1324.05 363.95,1324.05" fill="#fff" stroke="#127d08" stroke-width="2.25" stroke-linejoin="round"/>
<polygon points="346.9,1319.85 352.15,1329.15 341.65,1329.15" fill="#fff" stroke="#127d08" stroke-width="2.25" stroke-linejoin="round"/>
<polygon points="335.6,1337.95 340.85,1347.25 330.35,1347.25" fill="#fff" stroke="#127d08" stroke-width="2.25" stroke-linejoin="round"/>
<polygon points="346.9,1340.75 352.15,1350.05 341.65,1350.05" fill="#fff" stroke="#127d08" stroke-width="2.25" stroke-linejoin="round"/>
<polygon points="335.6,1351.55 340.85,1360.85 330.35,1360.85" fill="#fff" stroke="#127d08" stroke-width="2.25" stroke-linejoin="round"/>
<polygon points="346.9,1356.65 352.15,1365.95 341.65,1365.95" fill="#fff" stroke="#127d08" stroke-width="2.25" stroke-linejoin="round"/>
<polygon points="358.2,1355.45 363.45,1364.75 352.95,1364.75" fill="#fff" stroke="#127d08" stroke-width="2.25" stroke-linejoin="round"/>
<polygon points="369.2,1356.65 374.45,1365.95 363.95,1365.95" fill="#fff" stroke="#127d08" stroke-width="2.25" stroke-linejoin="round"/>
<polygon points="341.2,1379.25 346.45,1388.55 335.95,1388.55" fill="#fff" stroke="#127d08" stroke-width="2.25" stroke-linejoin="round"/>
<polygon points="352.6,1374.75 357.85,1384.05 347.35,1384.05" fill="#fff" stroke="#127d08" stroke-width="2.25" stroke-linejoin="round"/>
<polygon points="363.9,1376.95 369.15,1386.25 358.65,1386.25" fill="#fff" stroke="#127d08" stroke-width="2.25" stroke-linejoin="round"/>
<path d="M299.6 1321.1V1004.2H352.6V1279.8" stroke="#000" stroke-width="2.6" fill="none"/>
<text x="308.18" y="997.8" font-size="26.5" text-anchor="start" font-weight="normal" fill="#000" textLength="29.53" lengthAdjust="spacingAndGlyphs">ns</text>
<text x="0" y="0" font-size="27.5" text-anchor="end" font-weight="normal" fill="#000" transform="translate(310.1 1413.6) rotate(-45)">EXT</text>
<text x="0" y="0" font-size="27.5" text-anchor="end" font-weight="normal" fill="#000" transform="translate(369.6 1412.4) rotate(-45)">RST</text>
<text x="237.76" y="1491.6" font-size="27.5" text-anchor="start" font-weight="normal" fill="#000" textLength="139.43" lengthAdjust="spacingAndGlyphs">SAL + PRB</text>
<rect x="428.1" y="1353.64" width="43.4" height="30.56" fill="#fff" stroke="#000" stroke-width="2.4"/>
<rect x="481.1" y="1351.55" width="43.4" height="32.65" fill="#fff" stroke="#000" stroke-width="2.4"/>
<path d="M449.8 1349.2V1358.08M439.4 1349.2H460.2M439.4 1358.08H460.2" stroke="#000" stroke-width="2.6" fill="none"/>
<path d="M502.8 1336.4V1366.7M492.4 1336.4H513.2M492.4 1366.7H513.2" stroke="#000" stroke-width="2.6" fill="none"/>
<rect x="435.6" y="1316.1" width="11" height="11" fill="#fff" stroke="#d20000" stroke-width="2.25" stroke-linejoin="round"/>
<rect x="452.9" y="1316.1" width="11" height="11" fill="#fff" stroke="#d20000" stroke-width="2.25" stroke-linejoin="round"/>
<rect x="444.3" y="1324.1" width="11" height="11" fill="#fff" stroke="#d20000" stroke-width="2.25" stroke-linejoin="round"/>
<rect x="427.1" y="1341.6" width="11" height="11" fill="#fff" stroke="#d20000" stroke-width="2.25" stroke-linejoin="round"/>
<rect x="436" y="1339" width="11" height="11" fill="#fff" stroke="#d20000" stroke-width="2.25" stroke-linejoin="round"/>
<rect x="452" y="1336.5" width="11" height="11" fill="#fff" stroke="#d20000" stroke-width="2.25" stroke-linejoin="round"/>
<rect x="461.6" y="1336.5" width="11" height="11" fill="#fff" stroke="#d20000" stroke-width="2.25" stroke-linejoin="round"/>
<rect x="444.3" y="1346.7" width="11" height="11" fill="#fff" stroke="#d20000" stroke-width="2.25" stroke-linejoin="round"/>
<rect x="461.6" y="1360.3" width="11" height="11" fill="#fff" stroke="#d20000" stroke-width="2.25" stroke-linejoin="round"/>
<rect x="427.1" y="1367.6" width="11" height="11" fill="#fff" stroke="#d20000" stroke-width="2.25" stroke-linejoin="round"/>
<rect x="436" y="1365.4" width="11" height="11" fill="#fff" stroke="#d20000" stroke-width="2.25" stroke-linejoin="round"/>
<rect x="444.3" y="1367.6" width="11" height="11" fill="#fff" stroke="#d20000" stroke-width="2.25" stroke-linejoin="round"/>
<rect x="452" y="1365.9" width="11" height="11" fill="#fff" stroke="#d20000" stroke-width="2.25" stroke-linejoin="round"/>
<rect x="461.6" y="1375.5" width="11" height="11" fill="#fff" stroke="#d20000" stroke-width="2.25" stroke-linejoin="round"/>
<rect x="497.3" y="1243.2" width="11" height="11" fill="#fff" stroke="#d20000" stroke-width="2.25" stroke-linejoin="round"/>
<rect x="501.2" y="1316.1" width="11" height="11" fill="#fff" stroke="#d20000" stroke-width="2.25" stroke-linejoin="round"/>
<rect x="493.9" y="1321.2" width="11" height="11" fill="#fff" stroke="#d20000" stroke-width="2.25" stroke-linejoin="round"/>
<rect x="501.2" y="1330.9" width="11" height="11" fill="#fff" stroke="#d20000" stroke-width="2.25" stroke-linejoin="round"/>
<rect x="480.1" y="1342.2" width="11" height="11" fill="#fff" stroke="#d20000" stroke-width="2.25" stroke-linejoin="round"/>
<rect x="487.7" y="1344.4" width="11" height="11" fill="#fff" stroke="#d20000" stroke-width="2.25" stroke-linejoin="round"/>
<rect x="493.9" y="1346.7" width="11" height="11" fill="#fff" stroke="#d20000" stroke-width="2.25" stroke-linejoin="round"/>
<rect x="501.2" y="1344.4" width="11" height="11" fill="#fff" stroke="#d20000" stroke-width="2.25" stroke-linejoin="round"/>
<rect x="514.3" y="1342.2" width="11" height="11" fill="#fff" stroke="#d20000" stroke-width="2.25" stroke-linejoin="round"/>
<rect x="487.7" y="1360.3" width="11" height="11" fill="#fff" stroke="#d20000" stroke-width="2.25" stroke-linejoin="round"/>
<rect x="508" y="1368.2" width="11" height="11" fill="#fff" stroke="#d20000" stroke-width="2.25" stroke-linejoin="round"/>
<rect x="501.2" y="1371" width="11" height="11" fill="#fff" stroke="#d20000" stroke-width="2.25" stroke-linejoin="round"/>
<rect x="487.7" y="1378.4" width="11" height="11" fill="#fff" stroke="#d20000" stroke-width="2.25" stroke-linejoin="round"/>
<path d="M449.8 1308V1004.2H502.8V1235.1" stroke="#000" stroke-width="2.6" fill="none"/>
<text x="462.65" y="997.8" font-size="26.5" text-anchor="start" font-weight="normal" fill="#000" textLength="30.08" lengthAdjust="spacingAndGlyphs">ns</text>
<text x="0" y="0" font-size="27.5" text-anchor="end" font-weight="normal" fill="#000" transform="translate(456.2 1413.6) rotate(-45)">EXT</text>
<text x="0" y="0" font-size="27.5" text-anchor="end" font-weight="normal" fill="#000" transform="translate(515.7 1412.4) rotate(-45)">RST</text>
<text x="400.11" y="1491.6" font-size="27.5" text-anchor="start" font-weight="normal" fill="#000" textLength="143.61" lengthAdjust="spacingAndGlyphs">PRB + PRB</text>
<rect x="578.4" y="1361.48" width="43.4" height="22.72" fill="#fff" stroke="#000" stroke-width="2.4"/>
<rect x="631.8" y="1271.62" width="43.4" height="112.58" fill="#fff" stroke="#000" stroke-width="2.4"/>
<path d="M600.1 1357.04V1365.92M589.7 1357.04H610.5M589.7 1365.92H610.5" stroke="#000" stroke-width="2.6" fill="none"/>
<path d="M653.5 1247.59V1295.65M643.1 1247.59H663.9M643.1 1295.65H663.9" stroke="#000" stroke-width="2.6" fill="none"/>
<polygon points="617.3,1343.15 622.55,1333.85 612.05,1333.85" fill="#fff" stroke="#ff00dc" stroke-width="2.25" stroke-linejoin="round"/>
<polygon points="594.7,1350.85 599.95,1341.55 589.45,1341.55" fill="#fff" stroke="#ff00dc" stroke-width="2.25" stroke-linejoin="round"/>
<polygon points="605.9,1348.95 611.15,1339.65 600.65,1339.65" fill="#fff" stroke="#ff00dc" stroke-width="2.25" stroke-linejoin="round"/>
<polygon points="583.5,1358.55 588.75,1349.25 578.25,1349.25" fill="#fff" stroke="#ff00dc" stroke-width="2.25" stroke-linejoin="round"/>
<polygon points="594.7,1363.35 599.95,1354.05 589.45,1354.05" fill="#fff" stroke="#ff00dc" stroke-width="2.25" stroke-linejoin="round"/>
<polygon points="605.9,1360.55 611.15,1351.25 600.65,1351.25" fill="#fff" stroke="#ff00dc" stroke-width="2.25" stroke-linejoin="round"/>
<polygon points="583.5,1372.05 588.75,1362.75 578.25,1362.75" fill="#fff" stroke="#ff00dc" stroke-width="2.25" stroke-linejoin="round"/>
<polygon points="617.3,1369.15 622.55,1359.85 612.05,1359.85" fill="#fff" stroke="#ff00dc" stroke-width="2.25" stroke-linejoin="round"/>
<polygon points="605.9,1374.05 611.15,1364.75 600.65,1364.75" fill="#fff" stroke="#ff00dc" stroke-width="2.25" stroke-linejoin="round"/>
<polygon points="594.7,1386.55 599.95,1377.25 589.45,1377.25" fill="#fff" stroke="#ff00dc" stroke-width="2.25" stroke-linejoin="round"/>
<polygon points="605.9,1386.55 611.15,1377.25 600.65,1377.25" fill="#fff" stroke="#ff00dc" stroke-width="2.25" stroke-linejoin="round"/>
<polygon points="653.5,1137.75 658.75,1128.45 648.25,1128.45" fill="#fff" stroke="#ff00dc" stroke-width="2.25" stroke-linejoin="round"/>
<polygon points="653.5,1165.75 658.75,1156.45 648.25,1156.45" fill="#fff" stroke="#ff00dc" stroke-width="2.25" stroke-linejoin="round"/>
<polygon points="653.5,1205.25 658.75,1195.95 648.25,1195.95" fill="#fff" stroke="#ff00dc" stroke-width="2.25" stroke-linejoin="round"/>
<polygon points="653.5,1220.75 658.75,1211.45 648.25,1211.45" fill="#fff" stroke="#ff00dc" stroke-width="2.25" stroke-linejoin="round"/>
<polygon points="653.5,1272.75 658.75,1263.45 648.25,1263.45" fill="#fff" stroke="#ff00dc" stroke-width="2.25" stroke-linejoin="round"/>
<polygon points="653.5,1301.65 658.75,1292.35 648.25,1292.35" fill="#fff" stroke="#ff00dc" stroke-width="2.25" stroke-linejoin="round"/>
<polygon points="653.5,1326.75 658.75,1317.45 648.25,1317.45" fill="#fff" stroke="#ff00dc" stroke-width="2.25" stroke-linejoin="round"/>
<polygon points="636.7,1335.45 641.95,1326.15 631.45,1326.15" fill="#fff" stroke="#ff00dc" stroke-width="2.25" stroke-linejoin="round"/>
<polygon points="670.3,1337.95 675.55,1328.65 665.05,1328.65" fill="#fff" stroke="#ff00dc" stroke-width="2.25" stroke-linejoin="round"/>
<polygon points="653.5,1346.05 658.75,1336.75 648.25,1336.75" fill="#fff" stroke="#ff00dc" stroke-width="2.25" stroke-linejoin="round"/>
<polygon points="653.5,1366.25 658.75,1356.95 648.25,1356.95" fill="#fff" stroke="#ff00dc" stroke-width="2.25" stroke-linejoin="round"/>
<path d="M600.1 1326V1004.2H653.5V1120.6" stroke="#000" stroke-width="2.6" fill="none"/>
<path d="M598.5 983.9L598.5 975.8M598.5 983.9L606 982.17M598.5 983.9L603.07 989.97M598.5 983.9L593.93 989.97M598.5 983.9L591 982.17" stroke="#000" stroke-width="3.4" fill="none"/>
<path d="M618.3 983.9L618.3 975.8M618.3 983.9L625.8 982.17M618.3 983.9L622.87 989.97M618.3 983.9L613.73 989.97M618.3 983.9L610.8 982.17" stroke="#000" stroke-width="3.4" fill="none"/>
<path d="M638.1 983.9L638.1 975.8M638.1 983.9L645.6 982.17M638.1 983.9L642.67 989.97M638.1 983.9L633.53 989.97M638.1 983.9L630.6 982.17" stroke="#000" stroke-width="3.4" fill="none"/>
<path d="M657.9 983.9L657.9 975.8M657.9 983.9L665.4 982.17M657.9 983.9L662.47 989.97M657.9 983.9L653.33 989.97M657.9 983.9L650.4 982.17" stroke="#000" stroke-width="3.4" fill="none"/>
<text x="0" y="0" font-size="27.5" text-anchor="end" font-weight="normal" fill="#000" transform="translate(604.1 1413.6) rotate(-45)">EXT</text>
<text x="0" y="0" font-size="27.5" text-anchor="end" font-weight="normal" fill="#000" transform="translate(664.1 1412.4) rotate(-45)">RST</text>
<text x="564.42" y="1491.6" font-size="27.5" text-anchor="start" font-weight="normal" fill="#000" textLength="138.63" lengthAdjust="spacingAndGlyphs">PRB + SAL</text>
<path d="M896.2 1012.6V1383.9" stroke="#000" stroke-width="3" fill="none"/>
<path d="M887.7 1383.9H1500" stroke="#000" stroke-width="3.3" fill="none"/>
<path d="M888 1251.3H896.2" stroke="#000" stroke-width="3"/>
<path d="M888 1118.7H896.2" stroke="#000" stroke-width="3"/>
<path transform="translate(838.09 1128.3) scale(27.36 28.5)" d="M0.356 0L0.356 -0.70L0.298 -0.70C0.27 -0.632 0.19 -0.566 0.106 -0.532L0.106 -0.448C0.165 -0.47 0.222 -0.505 0.258 -0.538L0.258 0Z" fill="#000"/><text transform="translate(853.31 1128.3) scale(0.96 1)" x="0" y="0" font-size="28.5" fill="#000">0</text><text transform="translate(868.52 1128.3) scale(0.96 1)" x="0" y="0" font-size="28.5" fill="#000">0</text>
<text transform="translate(849.21 1258.7) scale(0.96 1)" x="0" y="0" font-size="28.5" fill="#000">5</text><text transform="translate(864.42 1258.7) scale(0.96 1)" x="0" y="0" font-size="28.5" fill="#000">0</text>
<text transform="translate(858.52 1390) scale(0.96 1)" x="0" y="0" font-size="28.5" fill="#000">0</text>
<text x="0" y="0" font-size="30.2" text-anchor="middle" font-weight="normal" fill="#000" transform="translate(832.2 1204.7) rotate(-90)"># of Correct Lever Presses</text>
<text x="772.24" y="1001.8" font-size="39.5" text-anchor="start" font-weight="bold" fill="#000" textLength="25.26" lengthAdjust="spacingAndGlyphs">E</text>
<path d="M941 1383.9V1392.4" stroke="#000" stroke-width="3.2"/>
<path d="M995 1383.9V1392.4" stroke="#000" stroke-width="3.2"/>
<path d="M1094 1383.9V1392.4" stroke="#000" stroke-width="3.2"/>
<path d="M1148.3 1383.9V1392.4" stroke="#000" stroke-width="3.2"/>
<path d="M1247 1383.9V1392.4" stroke="#000" stroke-width="3.2"/>
<path d="M1301.1 1383.9V1392.4" stroke="#000" stroke-width="3.2"/>
<path d="M1400.2 1383.9V1392.4" stroke="#000" stroke-width="3.2"/>
<path d="M1454.3 1383.9V1392.4" stroke="#000" stroke-width="3.2"/>
<rect x="919.3" y="1365.34" width="43.4" height="18.56" fill="#fff" stroke="#000" stroke-width="2.4"/>
<rect x="973.3" y="1319.72" width="43.4" height="64.18" fill="#fff" stroke="#000" stroke-width="2.4"/>
<path d="M941 1360.3V1370.37M930.6 1360.3H951.4M930.6 1370.37H951.4" stroke="#000" stroke-width="2.6" fill="none"/>
<path d="M995 1310.44V1329M984.6 1310.44H1005.4M984.6 1329H1005.4" stroke="#000" stroke-width="2.6" fill="none"/>
<circle cx="932.4" cy="1346.8" r="4.9" fill="#fff" stroke="#0045e6" stroke-width="2.25"/>
<circle cx="941" cy="1349.4" r="4.9" fill="#fff" stroke="#0045e6" stroke-width="2.25"/>
<circle cx="949.6" cy="1344.2" r="4.9" fill="#fff" stroke="#0045e6" stroke-width="2.25"/>
<circle cx="958.4" cy="1365.4" r="4.9" fill="#fff" stroke="#0045e6" stroke-width="2.25"/>
<circle cx="932.4" cy="1370.3" r="4.9" fill="#fff" stroke="#0045e6" stroke-width="2.25"/>
<circle cx="949.6" cy="1373.1" r="4.9" fill="#fff" stroke="#0045e6" stroke-width="2.25"/>
<circle cx="924" cy="1379" r="4.9" fill="#fff" stroke="#0045e6" stroke-width="2.25"/>
<circle cx="941" cy="1375.9" r="4.9" fill="#fff" stroke="#0045e6" stroke-width="2.25"/>
<circle cx="958.4" cy="1381.2" r="4.9" fill="#fff" stroke="#0045e6" stroke-width="2.25"/>
<circle cx="995" cy="1267.3" r="4.9" fill="#fff" stroke="#0045e6" stroke-width="2.25"/>
<circle cx="995" cy="1301.8" r="4.9" fill="#fff" stroke="#0045e6" stroke-width="2.25"/>
<circle cx="986.7" cy="1312.3" r="4.9" fill="#fff" stroke="#0045e6" stroke-width="2.25"/>
<circle cx="1003.4" cy="1314.8" r="4.9" fill="#fff" stroke="#0045e6" stroke-width="2.25"/>
<circle cx="978.3" cy="1320.7" r="4.9" fill="#fff" stroke="#0045e6" stroke-width="2.25"/>
<circle cx="995" cy="1323.5" r="4.9" fill="#fff" stroke="#0045e6" stroke-width="2.25"/>
<circle cx="1012.2" cy="1323.1" r="4.9" fill="#fff" stroke="#0045e6" stroke-width="2.25"/>
<circle cx="995" cy="1339.3" r="4.9" fill="#fff" stroke="#0045e6" stroke-width="2.25"/>
<circle cx="995" cy="1368.2" r="4.9" fill="#fff" stroke="#0045e6" stroke-width="2.25"/>
<path d="M941 1330.5V1230.8H995V1254.3" stroke="#000" stroke-width="2.6" fill="none"/>
<path d="M948.7 1212.9L948.7 1204.8M948.7 1212.9L956.2 1211.17M948.7 1212.9L953.27 1218.97M948.7 1212.9L944.13 1218.97M948.7 1212.9L941.2 1211.17" stroke="#000" stroke-width="3.4" fill="none"/>
<path d="M968.5 1212.9L968.5 1204.8M968.5 1212.9L976 1211.17M968.5 1212.9L973.07 1218.97M968.5 1212.9L963.93 1218.97M968.5 1212.9L961 1211.17" stroke="#000" stroke-width="3.4" fill="none"/>
<path d="M988.3 1212.9L988.3 1204.8M988.3 1212.9L995.8 1211.17M988.3 1212.9L992.87 1218.97M988.3 1212.9L983.73 1218.97M988.3 1212.9L980.8 1211.17" stroke="#000" stroke-width="3.4" fill="none"/>
<text x="0" y="0" font-size="27.5" text-anchor="end" font-weight="normal" fill="#000" transform="translate(952 1415.45) rotate(-45)">EXT</text>
<text x="0" y="0" font-size="27.5" text-anchor="end" font-weight="normal" fill="#000" transform="translate(1011.6 1414.25) rotate(-45)">RST</text>
<text x="885.66" y="1493.2" font-size="27.5" text-anchor="start" font-weight="normal" fill="#000" textLength="145" lengthAdjust="spacingAndGlyphs">VEH + VEH</text>
<rect x="1072.3" y="1367.99" width="43.4" height="15.91" fill="#fff" stroke="#000" stroke-width="2.4"/>
<rect x="1126.6" y="1353.93" width="43.4" height="29.97" fill="#fff" stroke="#000" stroke-width="2.4"/>
<path d="M1094 1362.68V1373.29M1083.6 1362.68H1104.4M1083.6 1373.29H1104.4" stroke="#000" stroke-width="2.6" fill="none"/>
<path d="M1148.3 1342.79V1365.07M1137.9 1342.79H1158.7M1137.9 1365.07H1158.7" stroke="#000" stroke-width="2.6" fill="none"/>
<polygon points="1094,1324.45 1099.25,1333.75 1088.75,1333.75" fill="#fff" stroke="#127d08" stroke-width="2.25" stroke-linejoin="round"/>
<polygon points="1077.2,1361.45 1082.45,1370.75 1071.95,1370.75" fill="#fff" stroke="#127d08" stroke-width="2.25" stroke-linejoin="round"/>
<polygon points="1084.5,1363.55 1089.75,1372.85 1079.25,1372.85" fill="#fff" stroke="#127d08" stroke-width="2.25" stroke-linejoin="round"/>
<polygon points="1090.5,1360.75 1095.75,1370.05 1085.25,1370.05" fill="#fff" stroke="#127d08" stroke-width="2.25" stroke-linejoin="round"/>
<polygon points="1097.5,1363.55 1102.75,1372.85 1092.25,1372.85" fill="#fff" stroke="#127d08" stroke-width="2.25" stroke-linejoin="round"/>
<polygon points="1077.2,1374.75 1082.45,1384.05 1071.95,1384.05" fill="#fff" stroke="#127d08" stroke-width="2.25" stroke-linejoin="round"/>
<polygon points="1090.5,1374.75 1095.75,1384.05 1085.25,1384.05" fill="#fff" stroke="#127d08" stroke-width="2.25" stroke-linejoin="round"/>
<polygon points="1104,1374.75 1109.25,1384.05 1098.75,1384.05" fill="#fff" stroke="#127d08" stroke-width="2.25" stroke-linejoin="round"/>
<polygon points="1111.4,1371.25 1116.65,1380.55 1106.15,1380.55" fill="#fff" stroke="#127d08" stroke-width="2.25" stroke-linejoin="round"/>
<polygon points="1148.3,1284.55 1153.55,1293.85 1143.05,1293.85" fill="#fff" stroke="#127d08" stroke-width="2.25" stroke-linejoin="round"/>
<polygon points="1148.3,1318.85 1153.55,1328.15 1143.05,1328.15" fill="#fff" stroke="#127d08" stroke-width="2.25" stroke-linejoin="round"/>
<polygon points="1148.3,1332.15 1153.55,1341.45 1143.05,1341.45" fill="#fff" stroke="#127d08" stroke-width="2.25" stroke-linejoin="round"/>
<polygon points="1148.3,1346.05 1153.55,1355.35 1143.05,1355.35" fill="#fff" stroke="#127d08" stroke-width="2.25" stroke-linejoin="round"/>
<polygon points="1148.3,1358.65 1153.55,1367.95 1143.05,1367.95" fill="#fff" stroke="#127d08" stroke-width="2.25" stroke-linejoin="round"/>
<polygon points="1142.5,1371.95 1147.75,1381.25 1137.25,1381.25" fill="#fff" stroke="#127d08" stroke-width="2.25" stroke-linejoin="round"/>
<polygon points="1165.5,1374.05 1170.75,1383.35 1160.25,1383.35" fill="#fff" stroke="#127d08" stroke-width="2.25" stroke-linejoin="round"/>
<polygon points="1153.9,1376.85 1159.15,1386.15 1148.65,1386.15" fill="#fff" stroke="#127d08" stroke-width="2.25" stroke-linejoin="round"/>
<polygon points="1131.3,1379.65 1136.55,1388.95 1126.05,1388.95" fill="#fff" stroke="#127d08" stroke-width="2.25" stroke-linejoin="round"/>
<path d="M1094 1314.8V1230.8H1148.3V1275.3" stroke="#000" stroke-width="2.6" fill="none"/>
<text x="1102.72" y="1224.6" font-size="26.5" text-anchor="start" font-weight="normal" fill="#000" textLength="28.87" lengthAdjust="spacingAndGlyphs">ns</text>
<text x="0" y="0" font-size="27.5" text-anchor="end" font-weight="normal" fill="#000" transform="translate(1107.1 1415.45) rotate(-45)">EXT</text>
<text x="0" y="0" font-size="27.5" text-anchor="end" font-weight="normal" fill="#000" transform="translate(1167.2 1414.25) rotate(-45)">RST</text>
<text x="1051.36" y="1494" font-size="27.5" text-anchor="start" font-weight="normal" fill="#000" textLength="126.87" lengthAdjust="spacingAndGlyphs">VEH + EG</text>
<rect x="1225.3" y="1353.93" width="43.4" height="29.97" fill="#fff" stroke="#000" stroke-width="2.4"/>
<rect x="1279.4" y="1341.47" width="43.4" height="42.43" fill="#fff" stroke="#000" stroke-width="2.4"/>
<path d="M1247 1345.18V1362.68M1236.6 1345.18H1257.4M1236.6 1362.68H1257.4" stroke="#000" stroke-width="2.6" fill="none"/>
<path d="M1301.1 1325.82V1357.11M1290.7 1325.82H1311.5M1290.7 1357.11H1311.5" stroke="#000" stroke-width="2.6" fill="none"/>
<rect x="1233.2" y="1312.1" width="11" height="11" fill="#fff" stroke="#d20000" stroke-width="2.25" stroke-linejoin="round"/>
<rect x="1250.3" y="1312.1" width="11" height="11" fill="#fff" stroke="#d20000" stroke-width="2.25" stroke-linejoin="round"/>
<rect x="1258.7" y="1343.9" width="11" height="11" fill="#fff" stroke="#d20000" stroke-width="2.25" stroke-linejoin="round"/>
<rect x="1241.5" y="1349.5" width="11" height="11" fill="#fff" stroke="#d20000" stroke-width="2.25" stroke-linejoin="round"/>
<rect x="1224.8" y="1357.4" width="11" height="11" fill="#fff" stroke="#d20000" stroke-width="2.25" stroke-linejoin="round"/>
<rect x="1258.7" y="1359.9" width="11" height="11" fill="#fff" stroke="#d20000" stroke-width="2.25" stroke-linejoin="round"/>
<rect x="1233.2" y="1373.9" width="11" height="11" fill="#fff" stroke="#d20000" stroke-width="2.25" stroke-linejoin="round"/>
<rect x="1250.3" y="1373.9" width="11" height="11" fill="#fff" stroke="#d20000" stroke-width="2.25" stroke-linejoin="round"/>
<rect x="1295.6" y="1251.3" width="11" height="11" fill="#fff" stroke="#d20000" stroke-width="2.25" stroke-linejoin="round"/>
<rect x="1295.6" y="1293.8" width="11" height="11" fill="#fff" stroke="#d20000" stroke-width="2.25" stroke-linejoin="round"/>
<rect x="1289.8" y="1330.6" width="11" height="11" fill="#fff" stroke="#d20000" stroke-width="2.25" stroke-linejoin="round"/>
<rect x="1301.6" y="1330.6" width="11" height="11" fill="#fff" stroke="#d20000" stroke-width="2.25" stroke-linejoin="round"/>
<rect x="1289.8" y="1365.5" width="11" height="11" fill="#fff" stroke="#d20000" stroke-width="2.25" stroke-linejoin="round"/>
<rect x="1301.6" y="1367.6" width="11" height="11" fill="#fff" stroke="#d20000" stroke-width="2.25" stroke-linejoin="round"/>
<rect x="1312.8" y="1365.5" width="11" height="11" fill="#fff" stroke="#d20000" stroke-width="2.25" stroke-linejoin="round"/>
<rect x="1278.6" y="1373.9" width="11" height="11" fill="#fff" stroke="#d20000" stroke-width="2.25" stroke-linejoin="round"/>
<path d="M1247 1304.6V1230.8H1301.1V1243.1" stroke="#000" stroke-width="2.6" fill="none"/>
<text x="1254.61" y="1223.2" font-size="26.5" text-anchor="start" font-weight="normal" fill="#000" textLength="29.09" lengthAdjust="spacingAndGlyphs">ns</text>
<text x="0" y="0" font-size="27.5" text-anchor="end" font-weight="normal" fill="#000" transform="translate(1253.1 1415.45) rotate(-45)">EXT</text>
<text x="0" y="0" font-size="27.5" text-anchor="end" font-weight="normal" fill="#000" transform="translate(1312.6 1414.25) rotate(-45)">RST</text>
<text x="1209.37" y="1493.6" font-size="27.5" text-anchor="start" font-weight="normal" fill="#000" textLength="112.3" lengthAdjust="spacingAndGlyphs">EG + EG</text>
<rect x="1378.5" y="1353.4" width="43.4" height="30.5" fill="#fff" stroke="#000" stroke-width="2.4"/>
<rect x="1432.6" y="1348.36" width="43.4" height="35.54" fill="#fff" stroke="#000" stroke-width="2.4"/>
<path d="M1400.2 1347.57V1359.24M1389.8 1347.57H1410.6M1389.8 1359.24H1410.6" stroke="#000" stroke-width="2.6" fill="none"/>
<path d="M1454.3 1343.06V1353.67M1443.9 1343.06H1464.7M1443.9 1353.67H1464.7" stroke="#000" stroke-width="2.6" fill="none"/>
<polygon points="1400.2,1321.15 1405.45,1311.85 1394.95,1311.85" fill="#fff" stroke="#ff00dc" stroke-width="2.25" stroke-linejoin="round"/>
<polygon points="1391.4,1342.45 1396.65,1333.15 1386.15,1333.15" fill="#fff" stroke="#ff00dc" stroke-width="2.25" stroke-linejoin="round"/>
<polygon points="1400.5,1344.85 1405.75,1335.55 1395.25,1335.55" fill="#fff" stroke="#ff00dc" stroke-width="2.25" stroke-linejoin="round"/>
<polygon points="1417.3,1358.15 1422.55,1348.85 1412.05,1348.85" fill="#fff" stroke="#ff00dc" stroke-width="2.25" stroke-linejoin="round"/>
<polygon points="1391.4,1360.95 1396.65,1351.65 1386.15,1351.65" fill="#fff" stroke="#ff00dc" stroke-width="2.25" stroke-linejoin="round"/>
<polygon points="1383.1,1368.65 1388.35,1359.35 1377.85,1359.35" fill="#fff" stroke="#ff00dc" stroke-width="2.25" stroke-linejoin="round"/>
<polygon points="1400.2,1369.35 1405.45,1360.05 1394.95,1360.05" fill="#fff" stroke="#ff00dc" stroke-width="2.25" stroke-linejoin="round"/>
<polygon points="1408.6,1366.55 1413.85,1357.25 1403.35,1357.25" fill="#fff" stroke="#ff00dc" stroke-width="2.25" stroke-linejoin="round"/>
<polygon points="1417.3,1376.95 1422.55,1367.65 1412.05,1367.65" fill="#fff" stroke="#ff00dc" stroke-width="2.25" stroke-linejoin="round"/>
<polygon points="1454.3,1316.25 1459.55,1306.95 1449.05,1306.95" fill="#fff" stroke="#ff00dc" stroke-width="2.25" stroke-linejoin="round"/>
<polygon points="1450.5,1342.45 1455.75,1333.15 1445.25,1333.15" fill="#fff" stroke="#ff00dc" stroke-width="2.25" stroke-linejoin="round"/>
<polygon points="1443.6,1349.75 1448.85,1340.45 1438.35,1340.45" fill="#fff" stroke="#ff00dc" stroke-width="2.25" stroke-linejoin="round"/>
<polygon points="1464.1,1349.75 1469.35,1340.45 1458.85,1340.45" fill="#fff" stroke="#ff00dc" stroke-width="2.25" stroke-linejoin="round"/>
<polygon points="1457.8,1355.35 1463.05,1346.05 1452.55,1346.05" fill="#fff" stroke="#ff00dc" stroke-width="2.25" stroke-linejoin="round"/>
<polygon points="1471.1,1355.35 1476.35,1346.05 1465.85,1346.05" fill="#fff" stroke="#ff00dc" stroke-width="2.25" stroke-linejoin="round"/>
<polygon points="1436.8,1361.65 1442.05,1352.35 1431.55,1352.35" fill="#fff" stroke="#ff00dc" stroke-width="2.25" stroke-linejoin="round"/>
<polygon points="1450.5,1361.65 1455.75,1352.35 1445.25,1352.35" fill="#fff" stroke="#ff00dc" stroke-width="2.25" stroke-linejoin="round"/>
<polygon points="1464.1,1367.25 1469.35,1357.95 1458.85,1357.95" fill="#fff" stroke="#ff00dc" stroke-width="2.25" stroke-linejoin="round"/>
<path d="M1400.2 1304.6V1230.8H1454.3V1299.4" stroke="#000" stroke-width="2.6" fill="none"/>
<text x="1411.28" y="1223.2" font-size="26.5" text-anchor="start" font-weight="normal" fill="#000" textLength="29.64" lengthAdjust="spacingAndGlyphs">ns</text>
<text x="0" y="0" font-size="27.5" text-anchor="end" font-weight="normal" fill="#000" transform="translate(1401 1415.45) rotate(-45)">EXT</text>
<text x="0" y="0" font-size="27.5" text-anchor="end" font-weight="normal" fill="#000" transform="translate(1460.7 1414.25) rotate(-45)">RST</text>
<text x="1362.21" y="1493.6" font-size="27.5" text-anchor="start" font-weight="normal" fill="#000" textLength="127" lengthAdjust="spacingAndGlyphs">EG + VEH</text>
</svg></body></html>
